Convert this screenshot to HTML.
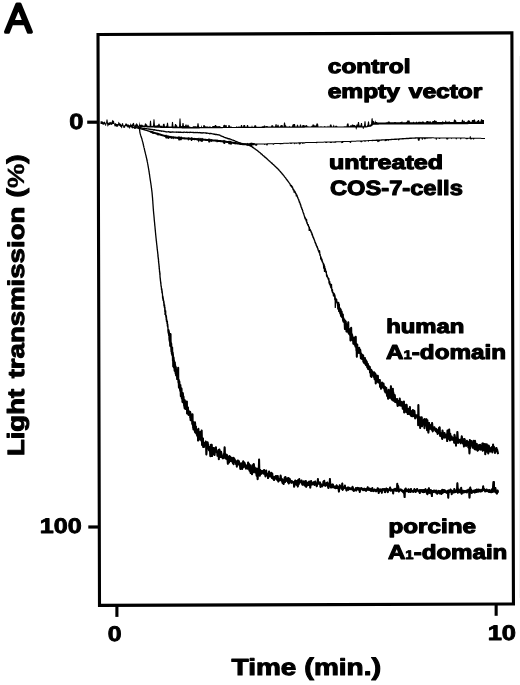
<!DOCTYPE html>
<html lang="en"><head><meta charset="utf-8"><title>Figure A</title>
<style>
html,body{margin:0;padding:0;background:#fff;}
svg{display:block}
text{text-rendering:geometricPrecision;font-family:"Liberation Sans",Arial,Helvetica,sans-serif;font-weight:700;fill:#000;stroke:#000;stroke-linejoin:round}
</style></head>
<body>
<svg width="520" height="685" viewBox="0 0 520 685">
<rect width="520" height="685" fill="#fff"/>
<polygon points="98.0,34.5 511.9,32.9 513.45,604.05 99.5,605.4" fill="none" stroke="#000" stroke-width="3.1" stroke-linejoin="miter"/>
<line x1="519.5" y1="56" x2="519.5" y2="598" stroke="#f1f1f1" stroke-width="1"/>

<line x1="87.2" y1="122.2" x2="98" y2="122.2" stroke="#000" stroke-width="3.2"/>
<line x1="88.3" y1="527" x2="99" y2="527" stroke="#000" stroke-width="3.2"/>
<line x1="116.9" y1="605" x2="116.9" y2="616.9" stroke="#000" stroke-width="3.1"/>
<line x1="496.15" y1="604" x2="496.15" y2="615.8" stroke="#000" stroke-width="3.1"/>


<path d="M100.5,121.5 101.0,121.2 101.5,121.4 102.0,120.8 102.5,121.8 103.0,121.8 103.5,122.3 104.0,122.3 104.5,121.6 105.0,121.7 105.5,123.2 106.0,123.2 106.5,119.4 107.0,119.4 107.5,119.4 108.0,123.2 108.5,122.6 109.0,122.7 109.5,122.1 110.0,122.5 110.5,121.9 111.0,121.8 111.5,122.7 112.0,121.1 112.5,119.8 113.0,120.5 113.5,120.8 114.0,120.9 114.5,123.8 115.0,123.4 115.5,123.1 116.0,123.6 116.5,124.1 117.0,124.0 117.5,123.9 118.0,124.2 118.5,121.7 119.0,121.9 119.5,123.2 120.0,123.3 120.5,123.7 121.0,124.3 121.5,125.3 122.0,123.2 122.5,123.2 123.0,122.9 123.5,125.5 124.0,125.5 124.5,125.2 125.0,125.1 125.5,123.3 126.0,123.7 126.5,123.5 127.0,123.8 127.5,124.7 128.0,124.5 128.5,124.6 129.0,124.7 129.5,125.6 130.0,125.6 130.5,123.2 131.0,123.8 131.5,124.9 132.0,124.8 132.5,123.7 133.0,123.3 133.5,122.8 134.0,123.0 134.5,125.4 135.0,125.4 135.5,124.2 136.0,124.4 136.5,123.0 137.0,123.5 137.5,124.5 138.0,124.7 138.5,125.9 139.0,125.8 139.5,121.4 140.0,124.7 140.5,124.7 141.0,124.8 141.5,124.8 142.0,124.4 142.5,125.1 143.0,125.5 143.5,125.6 144.0,125.6 144.5,125.6 145.0,123.3 145.5,123.4 146.0,123.4 146.5,124.5 147.0,124.5 147.5,125.8 148.0,125.8 148.5,125.8 149.0,125.9 149.5,125.9 150.0,120.7 150.5,120.7 151.0,120.7 151.5,126.0 152.0,126.0 152.5,126.0 153.0,125.2 153.5,119.3 154.0,119.3 154.5,119.4 155.0,125.7 155.5,125.4 156.0,125.4 156.5,125.4 157.0,125.4 157.5,125.1 158.0,125.2 158.5,123.8 159.0,123.8 159.5,123.8 160.0,125.6 160.5,125.7 161.0,125.7 161.5,125.4 162.0,126.3 162.5,126.3 163.0,124.2 163.5,123.7 164.0,123.8 164.5,123.8 165.0,126.4 165.5,126.4 166.0,125.8 166.5,125.9 167.0,122.7 167.5,122.7 168.0,122.8 168.5,126.5 169.0,126.5 169.5,126.5 170.0,126.5 170.5,126.5 171.0,126.5 171.5,126.5 172.0,121.8 172.5,121.9 173.0,121.9 173.5,126.6 174.0,126.6 174.5,126.6 175.0,123.9 175.5,123.9 176.0,123.9 176.5,125.2 177.0,125.2 177.5,126.7 178.0,126.7 178.5,126.7 179.0,126.7 179.5,118.5 180.0,118.5 180.5,118.5 181.0,125.9 181.5,125.9 182.0,126.3 182.5,123.1 183.0,123.1 183.5,123.1 184.0,126.0 184.5,126.0 185.0,126.0 185.5,124.6 186.0,124.6 186.5,124.6 187.0,126.3 187.5,124.8 188.0,124.8 188.5,124.8 189.0,126.4 189.5,126.4 190.0,126.4 190.5,126.9 191.0,126.9 191.5,126.9 192.0,126.9 192.5,126.9 193.0,126.3 193.5,126.3 194.0,126.3 194.5,126.3 195.0,126.3 195.5,126.3 196.0,126.3 196.5,126.4 197.0,126.4 197.5,123.2 198.0,123.2 198.5,123.2 199.0,126.3 199.5,126.9 200.0,127.1 200.5,127.1 201.0,127.1 201.5,125.1 202.0,127.1 202.5,127.1 203.0,127.1 203.5,125.1 204.0,125.1 204.5,125.1 205.0,126.3 205.5,126.3 206.0,126.5 206.5,126.5 207.0,126.5 207.5,126.6 208.0,126.6 208.5,127.1 209.0,126.5 209.5,126.5 210.0,126.5 210.5,126.5 211.0,127.0 211.5,127.0 212.0,127.0 212.5,126.1 213.0,126.1 213.5,126.1 214.0,126.1 214.5,126.1 215.0,125.0 215.5,125.0 216.0,125.0 216.5,126.1 217.0,126.3 217.5,126.3 218.0,126.2 218.5,126.2 219.0,125.9 219.5,125.9 220.0,126.4 220.5,126.4 221.0,127.0 221.5,127.0 222.0,127.0 222.5,127.0 223.0,126.9 223.5,124.9 224.0,124.9 224.5,124.7 225.0,124.7 225.5,125.6 226.0,125.0 226.5,125.0 227.0,126.9 227.5,126.9 228.0,126.9 228.5,124.9 229.0,124.9 229.5,124.9 230.0,126.4 230.5,126.4 231.0,126.4 231.5,126.4 232.0,126.9 232.5,126.9 233.0,126.9 233.5,126.9 234.0,126.9 234.5,126.9 235.0,126.9 235.5,126.9 236.0,126.9 236.5,126.3 237.0,126.3 237.5,126.9 238.0,126.8 238.5,126.8 239.0,126.0 239.5,126.8 240.0,126.8 240.5,126.8 241.0,124.9 241.5,124.9 242.0,124.9 242.5,126.8 243.0,126.8 243.5,125.1 244.0,124.9 244.5,124.9 245.0,124.9 245.5,126.8 246.0,126.8 246.5,126.8 247.0,124.9 247.5,124.9 248.0,124.9 248.5,126.8 249.0,126.8 249.5,126.8 250.0,126.8 250.5,126.8 251.0,126.8 251.5,126.7 252.0,125.0 252.5,126.7 253.0,126.7 253.5,126.7 254.0,126.7 254.5,125.2 255.0,125.2 255.5,125.2 256.0,125.2 256.5,126.7 257.0,126.7 257.5,126.7 258.0,126.7 258.5,126.7 259.0,126.7 259.5,126.7 260.0,126.7 260.5,126.7 261.0,126.7 261.5,126.7 262.0,126.2 262.5,126.2 263.0,126.2 263.5,126.2 264.0,125.6 264.5,125.6 265.0,125.6 265.5,126.6 266.0,125.9 266.5,125.9 267.0,125.9 267.5,125.9 268.0,126.6 268.5,126.6 269.0,126.6 269.5,126.6 270.0,126.6 270.5,126.6 271.0,126.6 271.5,125.2 272.0,125.2 272.5,125.2 273.0,125.2 273.5,126.6 274.0,126.6 274.5,126.6 275.0,126.6 275.5,124.2 276.0,124.2 276.5,124.1 277.0,126.6 277.5,124.8 278.0,124.8 278.5,124.8 279.0,126.6 279.5,126.6 280.0,126.6 280.5,125.3 281.0,125.3 281.5,124.9 282.0,124.9 282.5,124.9 283.0,126.5 283.5,126.5 284.0,122.6 284.5,122.6 285.0,122.6 285.5,125.3 286.0,125.3 286.5,126.5 287.0,126.5 287.5,126.5 288.0,126.5 288.5,126.5 289.0,126.5 289.5,125.7 290.0,126.5 290.5,126.5 291.0,126.5 291.5,126.5 292.0,126.5 292.5,124.4 293.0,124.4 293.5,124.1 294.0,124.1 294.5,124.1 295.0,124.1 295.5,126.5 296.0,126.5 296.5,126.5 297.0,124.8 297.5,124.8 298.0,124.8 298.5,126.5 299.0,126.5 299.5,126.5 300.0,124.6 300.5,124.6 301.0,124.6 301.5,126.5 302.0,126.5 302.5,124.9 303.0,124.9 303.5,124.9 304.0,124.9 304.5,125.6 305.0,125.6 305.5,125.6 306.0,125.6 306.5,125.1 307.0,125.1 307.5,126.4 308.0,125.9 308.5,126.4 309.0,126.4 309.5,126.4 310.0,126.4 310.5,126.4 311.0,126.4 311.5,125.4 312.0,126.4 312.5,124.4 313.0,124.4 313.5,124.4 314.0,124.4 314.5,125.4 315.0,125.4 315.5,125.4 316.0,125.4 316.5,123.6 317.0,123.6 317.5,123.6 318.0,123.6 318.5,126.4 319.0,126.4 319.5,126.4 320.0,126.4 320.5,126.4 321.0,125.8 321.5,126.4 322.0,126.4 322.5,126.4 323.0,126.4 323.5,126.4 324.0,126.4 324.5,125.9 325.0,125.9 325.5,126.4 326.0,126.4 326.5,126.4 327.0,126.4 327.5,126.4 328.0,125.4 328.5,126.4 329.0,126.4 329.5,126.4 330.0,124.5 330.5,124.5 331.0,124.5 331.5,124.8 332.0,126.4 332.5,126.4 333.0,126.4 333.5,124.8 334.0,124.8 334.5,126.4 335.0,126.4 335.5,125.8 336.0,125.8 336.5,125.8 337.0,125.8 337.5,126.4 338.0,126.4 338.5,126.4 339.0,126.4 339.5,126.4 340.0,126.4 340.5,126.4 341.0,126.4 341.5,126.4 342.0,126.4 342.5,126.4 343.0,126.4 343.5,126.4 344.0,126.3 344.5,126.3 345.0,126.3 345.5,126.3 346.0,126.3 346.5,126.3 347.0,123.4 347.5,123.4 348.0,123.4 348.5,123.4 349.0,126.3 349.5,126.3 350.0,125.7 350.5,125.2 351.0,125.2 351.5,125.6 352.0,124.4 352.5,124.4 353.0,124.4 353.5,125.0 354.0,125.0 354.5,125.0 355.0,125.0 355.5,125.7 356.0,126.3 356.5,124.6 357.0,124.6 357.5,124.6 358.0,121.9 358.5,121.9 359.0,121.9 359.5,125.4 360.0,125.4 360.5,125.4 361.0,122.9 361.5,122.9 362.0,122.9 362.5,126.3 363.0,126.2 363.5,126.2 364.0,125.6 364.5,121.3 365.0,121.3 365.5,121.3 366.0,126.2 366.5,126.2 367.0,125.5 367.5,125.0 368.0,121.5 368.5,121.4 369.0,121.2 369.5,125.5 370.0,124.7 370.5,124.5 371.0,124.3 371.5,118.7 372.0,118.3 372.5,117.9 373.0,121.2 373.5,120.9 374.0,120.8 374.5,122.4 375.0,122.4 375.5,119.9 376.0,122.0 376.5,122.0 377.0,121.9 377.5,122.4 378.0,122.4 378.5,122.4 379.0,122.4 379.5,122.4 380.0,122.4 380.5,122.4 381.0,122.4 381.5,122.4 382.0,122.4 382.5,122.4 383.0,122.4 383.5,122.4 384.0,122.4 384.5,122.4 385.0,122.4 385.5,122.4 386.0,122.3 386.5,122.3 387.0,122.3 387.5,122.3 388.0,121.6 388.5,121.6 389.0,121.6 389.5,121.5 390.0,122.3 390.5,122.3 391.0,122.3 391.5,122.3 392.0,122.3 392.5,122.3 393.0,122.3 393.5,122.3 394.0,122.3 394.5,121.9 395.0,121.9 395.5,121.9 396.0,122.3 396.5,122.3 397.0,122.3 397.5,122.3 398.0,122.3 398.5,122.3 399.0,122.3 399.5,122.3 400.0,122.3 400.5,121.9 401.0,121.9 401.5,121.9 402.0,120.8 402.5,122.3 403.0,122.3 403.5,122.3 404.0,122.3 404.5,122.3 405.0,122.3 405.5,122.3 406.0,122.3 406.5,121.7 407.0,121.7 407.5,120.3 408.0,120.5 408.5,120.5 409.0,120.5 409.5,120.5 410.0,122.3 410.5,122.3 411.0,122.3 411.5,122.3 412.0,122.3 412.5,122.3 413.0,122.3 413.5,121.4 414.0,122.3 414.5,122.3 415.0,122.3 415.5,122.3 416.0,122.3 416.5,121.3 417.0,122.3 417.5,122.3 418.0,122.3 418.5,121.8 419.0,121.8 419.5,121.6 420.0,122.2 420.5,121.7 421.0,121.7 421.5,122.2 422.0,121.5 422.5,121.5 423.0,121.5 423.5,121.5 424.0,122.2 424.5,122.2 425.0,122.2 425.5,122.2 426.0,122.2 426.5,121.0 427.0,121.0 427.5,121.0 428.0,121.0 428.5,121.5 429.0,121.5 429.5,121.5 430.0,121.5 430.5,121.1 431.0,122.2 431.5,122.2 432.0,122.2 432.5,121.1 433.0,121.1 433.5,121.1 434.0,121.1 434.5,120.1 435.0,120.1 435.5,120.9 436.0,120.9 436.5,120.8 437.0,122.1 437.5,122.1 438.0,122.1 438.5,122.1 439.0,122.1 439.5,122.1 440.0,122.1 440.5,122.1 441.0,122.1 441.5,122.1 442.0,122.1 442.5,121.2 443.0,121.2 443.5,122.1 444.0,122.1 444.5,122.1 445.0,122.1 445.5,120.5 446.0,120.5 446.5,122.1 447.0,121.7 447.5,121.7 448.0,121.7 448.5,121.7 449.0,121.2 449.5,121.2 450.0,122.1 450.5,122.0 451.0,122.0 451.5,122.0 452.0,122.0 452.5,122.0 453.0,122.0 453.5,122.0 454.0,119.5 454.5,119.5 455.0,119.5 455.5,120.2 456.0,120.2 456.5,122.0 457.0,122.0 457.5,122.0 458.0,122.0 458.5,122.0 459.0,122.0 459.5,122.0 460.0,122.0 460.5,122.0 461.0,122.0 461.5,122.0 462.0,119.7 462.5,119.7 463.0,119.7 463.5,121.5 464.0,120.7 464.5,120.7 465.0,121.9 465.5,121.9 466.0,121.9 466.5,121.9 467.0,121.4 467.5,121.4 468.0,120.3 468.5,120.2 469.0,120.2 469.5,120.8 470.0,120.8 470.5,121.9 471.0,121.9 471.5,121.9 472.0,120.0 472.5,120.0 473.0,119.9 473.5,119.9 474.0,119.6 474.5,119.6 475.0,119.6 475.5,121.8 476.0,121.8 476.5,121.8 477.0,120.9 477.5,120.9 478.0,120.0 478.5,120.0 479.0,119.9 479.5,121.8 480.0,121.4 480.5,121.4 481.0,119.3 481.5,119.3 482.0,119.3 482.5,120.1 483.0,119.9 483.5,119.9 484.0,119.9 484.0,124.0 483.5,124.0 483.0,124.0 482.5,124.0 482.0,124.0 481.5,124.0 481.0,124.0 480.5,124.0 480.0,124.0 479.5,124.0 479.0,124.0 478.5,124.1 478.0,124.1 477.5,124.1 477.0,124.1 476.5,124.1 476.0,124.1 475.5,124.1 475.0,124.1 474.5,124.1 474.0,124.1 473.5,124.1 473.0,124.1 472.5,124.1 472.0,124.1 471.5,124.1 471.0,124.1 470.5,124.1 470.0,124.1 469.5,124.1 469.0,124.1 468.5,124.1 468.0,124.2 467.5,124.2 467.0,124.2 466.5,124.2 466.0,124.2 465.5,124.2 465.0,124.2 464.5,124.2 464.0,124.2 463.5,124.2 463.0,124.2 462.5,124.2 462.0,124.2 461.5,124.2 461.0,124.2 460.5,124.2 460.0,124.2 459.5,124.2 459.0,124.2 458.5,124.2 458.0,124.2 457.5,124.2 457.0,124.2 456.5,124.2 456.0,124.3 455.5,124.3 455.0,124.3 454.5,124.3 454.0,124.3 453.5,124.3 453.0,124.3 452.5,124.3 452.0,124.3 451.5,124.3 451.0,124.3 450.5,124.3 450.0,124.3 449.5,124.3 449.0,124.3 448.5,124.3 448.0,124.3 447.5,124.3 447.0,124.3 446.5,124.3 446.0,124.3 445.5,124.3 445.0,124.3 444.5,124.3 444.0,124.3 443.5,124.3 443.0,124.4 442.5,124.4 442.0,124.4 441.5,124.4 441.0,124.4 440.5,124.4 440.0,124.4 439.5,124.4 439.0,124.4 438.5,124.4 438.0,124.4 437.5,124.4 437.0,124.4 436.5,124.4 436.0,124.4 435.5,124.4 435.0,124.4 434.5,124.4 434.0,124.4 433.5,124.4 433.0,124.4 432.5,124.4 432.0,124.4 431.5,124.4 431.0,124.4 430.5,124.4 430.0,124.4 429.5,124.4 429.0,124.4 428.5,124.5 428.0,124.5 427.5,124.5 427.0,124.5 426.5,124.5 426.0,124.5 425.5,124.5 425.0,124.5 424.5,124.5 424.0,124.5 423.5,124.5 423.0,124.5 422.5,124.5 422.0,124.5 421.5,124.5 421.0,124.5 420.5,124.5 420.0,124.5 419.5,124.5 419.0,124.5 418.5,124.5 418.0,124.5 417.5,124.5 417.0,124.5 416.5,124.5 416.0,124.5 415.5,124.5 415.0,124.5 414.5,124.5 414.0,124.5 413.5,124.5 413.0,124.5 412.5,124.5 412.0,124.5 411.5,124.5 411.0,124.5 410.5,124.5 410.0,124.5 409.5,124.5 409.0,124.5 408.5,124.5 408.0,124.5 407.5,124.5 407.0,124.5 406.5,124.5 406.0,124.5 405.5,124.5 405.0,124.5 404.5,124.5 404.0,124.5 403.5,124.5 403.0,124.6 402.5,124.6 402.0,124.6 401.5,124.6 401.0,124.6 400.5,124.6 400.0,124.6 399.5,124.6 399.0,124.6 398.5,124.6 398.0,124.6 397.5,124.6 397.0,124.6 396.5,124.6 396.0,124.6 395.5,124.6 395.0,124.6 394.5,124.6 394.0,124.6 393.5,124.6 393.0,124.6 392.5,124.6 392.0,124.6 391.5,124.6 391.0,124.6 390.5,124.6 390.0,124.6 389.5,124.6 389.0,124.6 388.5,124.6 388.0,124.6 387.5,124.6 387.0,124.6 386.5,124.6 386.0,124.6 385.5,124.6 385.0,124.6 384.5,124.6 384.0,124.6 383.5,124.6 383.0,124.6 382.5,124.6 382.0,124.6 381.5,124.6 381.0,124.6 380.5,124.6 380.0,124.6 379.5,124.6 379.0,124.6 378.5,124.7 378.0,124.7 377.5,124.7 377.0,124.7 376.5,124.7 376.0,124.7 375.5,124.7 375.0,124.7 374.5,124.7 374.0,124.7 373.5,124.8 373.0,125.1 372.5,125.5 372.0,125.9 371.5,126.3 371.0,126.6 370.5,126.8 370.0,127.0 369.5,126.7 369.0,126.8 368.5,127.0 368.0,127.1 367.5,127.2 367.0,127.3 366.5,127.4 366.0,127.4 365.5,127.4 365.0,127.4 364.5,127.4 364.0,127.4 363.5,129.0 363.0,129.0 362.5,127.5 362.0,127.5 361.5,127.5 361.0,127.5 360.5,127.5 360.0,127.5 359.5,127.5 359.0,127.5 358.5,127.5 358.0,127.5 357.5,127.5 357.0,127.5 356.5,129.4 356.0,129.4 355.5,127.5 355.0,127.5 354.5,127.5 354.0,127.5 353.5,127.5 353.0,127.5 352.5,127.5 352.0,127.5 351.5,127.5 351.0,127.5 350.5,127.5 350.0,127.5 349.5,127.5 349.0,127.5 348.5,127.5 348.0,127.5 347.5,127.5 347.0,127.5 346.5,127.5 346.0,127.5 345.5,127.5 345.0,127.5 344.5,127.5 344.0,127.5 343.5,127.6 343.0,127.6 342.5,127.6 342.0,127.6 341.5,127.6 341.0,127.6 340.5,127.6 340.0,127.6 339.5,127.6 339.0,127.6 338.5,127.6 338.0,127.6 337.5,127.6 337.0,127.6 336.5,127.6 336.0,127.6 335.5,127.6 335.0,127.6 334.5,127.6 334.0,127.6 333.5,127.6 333.0,127.6 332.5,127.6 332.0,127.6 331.5,127.6 331.0,127.6 330.5,127.6 330.0,127.6 329.5,127.6 329.0,127.6 328.5,127.6 328.0,127.6 327.5,127.6 327.0,127.6 326.5,127.6 326.0,127.6 325.5,127.6 325.0,127.6 324.5,127.6 324.0,127.6 323.5,127.6 323.0,127.6 322.5,127.6 322.0,127.6 321.5,127.6 321.0,127.6 320.5,127.6 320.0,127.6 319.5,127.6 319.0,127.6 318.5,127.6 318.0,127.6 317.5,127.6 317.0,127.6 316.5,127.6 316.0,127.6 315.5,127.6 315.0,127.6 314.5,127.6 314.0,127.6 313.5,127.6 313.0,127.6 312.5,127.6 312.0,127.6 311.5,127.6 311.0,127.6 310.5,127.6 310.0,127.6 309.5,127.6 309.0,127.6 308.5,127.6 308.0,127.6 307.5,127.6 307.0,127.6 306.5,127.6 306.0,127.6 305.5,127.6 305.0,127.6 304.5,127.7 304.0,127.7 303.5,127.7 303.0,127.7 302.5,127.7 302.0,127.7 301.5,127.7 301.0,127.7 300.5,127.7 300.0,127.7 299.5,127.7 299.0,127.7 298.5,127.7 298.0,127.7 297.5,127.7 297.0,127.7 296.5,127.7 296.0,127.7 295.5,127.7 295.0,127.7 294.5,127.7 294.0,127.7 293.5,127.7 293.0,127.7 292.5,127.7 292.0,127.7 291.5,127.7 291.0,127.7 290.5,127.7 290.0,127.7 289.5,127.7 289.0,127.7 288.5,127.7 288.0,127.7 287.5,127.7 287.0,127.7 286.5,127.7 286.0,127.7 285.5,127.7 285.0,127.7 284.5,127.7 284.0,127.7 283.5,127.7 283.0,127.7 282.5,127.7 282.0,127.7 281.5,127.7 281.0,127.7 280.5,127.7 280.0,127.8 279.5,127.8 279.0,127.8 278.5,127.8 278.0,127.8 277.5,127.8 277.0,127.8 276.5,127.8 276.0,127.8 275.5,127.8 275.0,127.8 274.5,127.8 274.0,127.8 273.5,127.8 273.0,127.8 272.5,127.8 272.0,127.8 271.5,127.8 271.0,127.8 270.5,127.8 270.0,127.8 269.5,127.8 269.0,127.8 268.5,127.8 268.0,127.8 267.5,127.8 267.0,127.8 266.5,127.8 266.0,127.8 265.5,127.8 265.0,127.8 264.5,127.9 264.0,127.9 263.5,127.9 263.0,127.9 262.5,127.9 262.0,127.9 261.5,127.9 261.0,127.9 260.5,127.9 260.0,127.9 259.5,127.9 259.0,127.9 258.5,127.9 258.0,127.9 257.5,127.9 257.0,127.9 256.5,127.9 256.0,127.9 255.5,127.9 255.0,127.9 254.5,127.9 254.0,127.9 253.5,127.9 253.0,127.9 252.5,127.9 252.0,127.9 251.5,127.9 251.0,128.0 250.5,128.0 250.0,128.0 249.5,128.0 249.0,128.0 248.5,128.0 248.0,128.0 247.5,128.0 247.0,128.0 246.5,128.0 246.0,128.0 245.5,128.0 245.0,128.0 244.5,128.0 244.0,128.0 243.5,128.0 243.0,128.0 242.5,128.0 242.0,128.0 241.5,128.0 241.0,128.0 240.5,128.0 240.0,128.0 239.5,128.0 239.0,128.0 238.5,128.0 238.0,128.0 237.5,128.1 237.0,128.1 236.5,128.1 236.0,128.1 235.5,128.1 235.0,128.1 234.5,128.1 234.0,128.1 233.5,128.1 233.0,128.1 232.5,128.1 232.0,128.1 231.5,128.1 231.0,128.1 230.5,128.1 230.0,128.1 229.5,128.1 229.0,128.1 228.5,128.1 228.0,128.1 227.5,128.1 227.0,128.1 226.5,128.1 226.0,128.1 225.5,128.1 225.0,128.1 224.5,128.1 224.0,128.1 223.5,128.1 223.0,128.1 222.5,128.2 222.0,128.2 221.5,128.2 221.0,128.2 220.5,128.2 220.0,128.2 219.5,128.2 219.0,128.2 218.5,128.2 218.0,128.2 217.5,128.2 217.0,128.2 216.5,128.2 216.0,128.2 215.5,128.2 215.0,128.2 214.5,128.2 214.0,128.2 213.5,128.2 213.0,128.2 212.5,128.2 212.0,128.2 211.5,128.2 211.0,128.2 210.5,128.2 210.0,128.2 209.5,128.2 209.0,128.3 208.5,128.3 208.0,128.3 207.5,128.3 207.0,128.3 206.5,128.3 206.0,128.3 205.5,128.3 205.0,128.3 204.5,128.3 204.0,128.3 203.5,128.3 203.0,128.3 202.5,128.3 202.0,128.3 201.5,128.3 201.0,128.3 200.5,128.3 200.0,128.3 199.5,128.5 199.0,128.5 198.5,128.5 198.0,128.5 197.5,128.5 197.0,128.5 196.5,128.5 196.0,128.5 195.5,128.5 195.0,128.5 194.5,128.5 194.0,128.5 193.5,128.5 193.0,128.5 192.5,128.5 192.0,128.5 191.5,128.5 191.0,128.5 190.5,128.5 190.0,128.5 189.5,128.5 189.0,128.5 188.5,128.5 188.0,128.5 187.5,128.4 187.0,128.4 186.5,128.4 186.0,128.4 185.5,128.4 185.0,128.4 184.5,128.4 184.0,128.4 183.5,128.4 183.0,128.4 182.5,128.4 182.0,128.4 181.5,128.3 181.0,128.3 180.5,128.3 180.0,128.3 179.5,128.3 179.0,128.3 178.5,128.3 178.0,128.3 177.5,128.3 177.0,128.3 176.5,128.2 176.0,128.2 175.5,128.2 175.0,128.2 174.5,128.2 174.0,128.2 173.5,128.2 173.0,128.2 172.5,128.2 172.0,128.1 171.5,128.1 171.0,128.1 170.5,128.1 170.0,128.1 169.5,128.1 169.0,128.1 168.5,128.1 168.0,128.1 167.5,128.0 167.0,128.0 166.5,128.0 166.0,128.0 165.5,128.0 165.0,128.0 164.5,128.0 164.0,128.0 163.5,127.9 163.0,127.9 162.5,127.9 162.0,127.9 161.5,127.9 161.0,127.9 160.5,127.9 160.0,127.8 159.5,127.8 159.0,127.8 158.5,127.8 158.0,127.8 157.5,127.8 157.0,127.7 156.5,127.7 156.0,127.7 155.5,127.7 155.0,127.7 154.5,127.7 154.0,127.6 153.5,127.6 153.0,127.6 152.5,127.6 152.0,127.6 151.5,127.6 151.0,127.5 150.5,127.5 150.0,127.5 149.5,127.5 149.0,127.5 148.5,127.4 148.0,127.4 147.5,127.4 147.0,127.4 146.5,127.3 146.0,127.3 145.5,127.3 145.0,127.3 144.5,127.2 144.0,127.2 143.5,127.2 143.0,127.1 142.5,127.1 142.0,127.1 141.5,127.1 141.0,127.0 140.5,127.0 140.0,127.0 139.5,126.4 139.0,128.3 138.5,128.3 138.0,127.2 137.5,127.1 137.0,126.3 136.5,126.2 136.0,126.9 135.5,126.9 135.0,128.4 134.5,128.4 134.0,126.1 133.5,126.1 133.0,126.2 132.5,126.2 132.0,127.6 131.5,127.6 131.0,126.4 130.5,126.4 130.0,128.8 129.5,128.8 129.0,127.4 128.5,127.4 128.0,127.4 127.5,127.4 127.0,126.4 126.5,126.4 126.0,126.1 125.5,126.1 125.0,127.7 124.5,127.7 124.0,128.1 123.5,128.1 123.0,126.1 122.5,126.1 122.0,128.2 121.5,128.2 121.0,127.1 120.5,127.1 120.0,126.3 119.5,126.1 119.0,125.4 118.5,125.2 118.0,126.7 117.5,126.5 117.0,126.9 116.5,126.8 116.0,126.3 115.5,126.2 115.0,126.4 114.5,126.3 114.0,124.1 113.5,124.0 113.0,124.0 112.5,123.9 112.0,125.1 111.5,125.0 111.0,124.5 110.5,124.4 110.0,125.1 109.5,125.1 109.0,125.2 108.5,125.2 108.0,126.4 107.5,126.4 107.0,123.6 106.5,123.6 106.0,125.9 105.5,125.9 105.0,124.2 104.5,124.2 104.0,124.8 103.5,124.8 103.0,124.5 102.5,124.5 102.0,123.9 101.5,123.9 101.0,123.9 100.5,124.0Z" fill="#000"/>
<path d="M128.0,125.2 128.5,125.3 129.0,125.4 129.5,125.5 130.0,125.6 130.5,125.7 131.0,125.8 131.5,125.9 132.0,126.0 132.5,126.1 133.0,126.2 133.5,126.4 134.0,126.5 134.5,126.6 135.0,126.7 135.5,126.8 136.0,126.9 136.5,127.0 137.0,127.2 137.5,127.3 138.0,127.4 138.5,127.5 139.0,127.6 139.5,127.8 140.0,127.9 140.5,128.0 141.0,128.2 141.5,128.3 142.0,128.4 142.5,128.6 143.0,128.7 143.5,128.8 144.0,129.0 144.5,129.1 145.0,129.3 145.5,129.4 146.0,129.6 146.5,129.7 147.0,129.9 147.5,130.0 148.0,130.2 148.5,130.3 149.0,130.5 149.5,130.7 150.0,130.5 150.5,130.7 151.0,130.8 151.5,131.0 152.0,131.1 152.5,131.1 153.0,131.2 153.5,131.6 154.0,131.7 154.5,131.9 155.0,132.0 155.5,132.2 156.0,132.3 156.5,132.5 157.0,132.4 157.5,132.5 158.0,132.9 158.5,132.8 159.0,133.2 159.5,133.3 160.0,133.5 160.5,133.6 161.0,133.8 161.5,133.9 162.0,134.1 162.5,134.2 163.0,134.4 163.5,134.5 164.0,134.7 164.5,134.8 165.0,135.0 165.5,135.1 166.0,134.6 166.5,134.7 167.0,135.5 167.5,135.2 168.0,135.3 168.5,135.8 169.0,135.3 169.5,135.9 170.0,136.0 170.5,136.1 171.0,135.8 171.5,136.2 172.0,136.0 172.5,136.3 173.0,136.4 173.5,135.9 174.0,136.5 174.5,136.5 175.0,136.6 175.5,136.6 176.0,136.7 176.5,136.7 177.0,136.7 177.5,136.8 178.0,136.8 178.5,136.1 179.0,136.9 179.5,136.2 180.0,136.4 180.5,137.0 181.0,136.5 181.5,136.5 182.0,137.1 182.5,137.2 183.0,137.2 183.5,137.2 184.0,137.3 184.5,137.3 185.0,137.3 185.5,137.4 186.0,137.4 186.5,137.4 187.0,137.4 187.5,137.5 188.0,137.5 188.5,137.1 189.0,137.4 189.5,137.6 190.0,137.6 190.5,137.7 191.0,137.7 191.5,137.1 192.0,137.2 192.5,137.8 193.0,137.8 193.5,137.9 194.0,137.9 194.5,137.7 195.0,138.0 195.5,138.0 196.0,138.1 196.5,138.1 197.0,138.2 197.5,138.0 198.0,138.0 198.5,138.3 199.0,137.3 199.5,138.3 200.0,138.4 200.5,138.1 201.0,137.7 201.5,138.5 202.0,137.8 202.5,137.9 203.0,138.6 203.5,138.6 204.0,138.7 204.5,138.7 205.0,138.7 205.5,138.8 206.0,138.8 206.5,138.9 207.0,138.9 207.5,138.9 208.0,139.0 208.5,138.3 209.0,139.0 209.5,138.4 210.0,138.4 210.5,139.2 211.0,138.9 211.5,138.9 212.0,139.3 212.5,139.3 213.0,139.4 213.5,139.4 214.0,139.4 214.5,139.5 215.0,139.5 215.5,139.6 216.0,139.6 216.5,139.7 217.0,139.2 217.5,139.8 218.0,139.8 218.5,139.9 219.0,139.9 219.5,139.9 220.0,140.0 220.5,140.1 221.0,140.1 221.5,140.2 222.0,140.2 222.5,140.3 223.0,140.3 223.5,139.7 224.0,140.5 224.5,139.9 225.0,139.8 225.5,140.7 226.0,140.7 226.5,140.8 227.0,140.9 227.5,141.0 228.0,141.0 228.5,141.1 229.0,140.6 229.5,140.7 230.0,141.3 230.5,140.8 231.0,140.8 231.5,141.5 232.0,141.6 232.5,141.7 233.0,141.7 233.5,141.8 234.0,141.9 234.5,141.9 235.0,141.7 235.5,142.1 236.0,142.1 236.5,142.2 237.0,142.3 237.5,142.4 238.0,142.4 238.5,142.5 239.0,142.6 239.5,142.7 240.0,142.8 240.5,142.8 241.0,142.9 241.5,143.0 242.0,143.0 242.5,143.1 243.0,143.1 243.5,143.2 244.0,143.2 244.5,143.2 245.0,143.2 245.5,143.2 246.0,143.2 246.5,143.2 247.0,143.2 247.5,142.7 248.0,143.2 248.5,143.2 249.0,143.2 249.5,143.2 250.0,142.8 250.5,142.8 251.0,143.2 251.5,142.4 252.0,142.4 252.5,143.1 253.0,143.1 253.5,143.1 254.0,143.1 254.5,143.1 255.0,143.6 255.5,143.6 256.0,143.6 256.5,143.6 257.0,143.6 257.5,143.5 258.0,143.5 258.5,143.5 259.0,143.5 259.5,143.5 260.0,143.5 260.5,143.5 261.0,143.5 261.5,143.5 262.0,143.5 262.5,143.5 263.0,143.4 263.5,143.4 264.0,143.4 264.5,143.4 265.0,143.4 265.5,143.4 266.0,143.4 266.5,143.4 267.0,143.3 267.5,143.3 268.0,143.3 268.5,143.3 269.0,143.3 269.5,143.3 270.0,143.3 270.5,143.3 271.0,143.2 271.5,143.2 272.0,143.2 272.5,143.2 273.0,143.2 273.5,143.2 274.0,143.2 274.5,143.1 275.0,143.1 275.5,143.1 276.0,143.1 276.5,143.1 277.0,143.1 277.5,143.0 278.0,143.0 278.5,143.0 279.0,143.0 279.5,143.0 280.0,143.0 280.5,142.9 281.0,142.9 281.5,142.9 282.0,142.9 282.5,142.9 283.0,142.9 283.5,142.8 284.0,142.8 284.5,142.8 285.0,142.8 285.5,142.8 286.0,142.8 286.5,142.7 287.0,142.7 287.5,142.7 288.0,142.7 288.5,142.7 289.0,142.7 289.5,142.6 290.0,142.6 290.5,142.6 291.0,142.6 291.5,142.6 292.0,142.6 292.5,142.5 293.0,142.5 293.5,142.5 294.0,142.5 294.5,142.5 295.0,142.5 295.5,142.4 296.0,142.4 296.5,142.4 297.0,142.4 297.5,142.4 298.0,142.4 298.5,142.3 299.0,142.3 299.5,142.3 300.0,142.3 300.5,142.3 301.0,142.3 301.5,142.3 302.0,142.2 302.5,142.2 303.0,142.2 303.5,142.2 304.0,142.2 304.5,142.2 305.0,142.2 305.5,142.1 306.0,142.1 306.5,142.1 307.0,142.1 307.5,142.1 308.0,142.1 308.5,142.1 309.0,142.0 309.5,142.0 310.0,142.0 310.5,142.0 311.0,142.0 311.5,142.0 312.0,142.0 312.5,142.0 313.0,141.9 313.5,141.9 314.0,141.9 314.5,141.9 315.0,141.9 315.5,141.9 316.0,141.9 316.5,141.8 317.0,141.8 317.5,141.8 318.0,141.8 318.5,141.8 319.0,141.8 319.5,141.8 320.0,141.8 320.5,141.7 321.0,141.7 321.5,141.7 322.0,141.7 322.5,141.7 323.0,141.7 323.5,141.7 324.0,141.6 324.5,141.6 325.0,141.6 325.5,141.6 326.0,141.6 326.5,141.6 327.0,141.6 327.5,141.6 328.0,141.5 328.5,141.5 329.0,141.5 329.5,141.5 330.0,141.5 330.5,141.5 331.0,141.5 331.5,141.4 332.0,141.4 332.5,141.4 333.0,141.4 333.5,141.4 334.0,141.4 334.5,141.4 335.0,141.3 335.5,141.3 336.0,141.3 336.5,141.3 337.0,141.3 337.5,141.3 338.0,141.3 338.5,141.2 339.0,141.2 339.5,141.2 340.0,141.2 340.5,141.2 341.0,141.2 341.5,141.2 342.0,141.1 342.5,141.1 343.0,141.1 343.5,141.1 344.0,141.1 344.5,141.1 345.0,141.0 345.5,141.0 346.0,141.0 346.5,141.0 347.0,141.0 347.5,141.0 348.0,140.9 348.5,140.9 349.0,140.9 349.5,140.9 350.0,140.9 350.5,140.9 351.0,140.8 351.5,140.8 352.0,140.8 352.5,140.8 353.0,140.8 353.5,140.8 354.0,140.7 354.5,140.7 355.0,140.7 355.5,140.7 356.0,140.7 356.5,140.6 357.0,140.6 357.5,140.6 358.0,140.6 358.5,140.6 359.0,140.5 359.5,140.5 360.0,140.5 360.5,140.5 361.0,140.5 361.5,140.4 362.0,140.4 362.5,140.4 363.0,140.4 363.5,140.3 364.0,140.3 364.5,140.3 365.0,140.3 365.5,140.3 366.0,140.2 366.5,140.2 367.0,140.2 367.5,140.2 368.0,140.1 368.5,140.1 369.0,140.1 369.5,140.1 370.0,140.0 370.5,140.0 371.0,140.0 371.5,140.0 372.0,139.8 372.5,139.8 373.0,139.8 373.5,139.8 374.0,139.7 374.5,139.7 375.0,139.7 375.5,139.7 376.0,139.6 376.5,139.6 377.0,139.6 377.5,139.6 378.0,139.5 378.5,139.5 379.0,139.5 379.5,139.4 380.0,139.4 380.5,139.4 381.0,139.4 381.5,139.3 382.0,139.3 382.5,139.3 383.0,139.3 383.5,139.2 384.0,139.2 384.5,139.2 385.0,139.2 385.5,139.1 386.0,139.1 386.5,139.1 387.0,139.1 387.5,139.0 388.0,139.0 388.5,139.0 389.0,139.0 389.5,138.9 390.0,138.9 390.5,138.9 391.0,138.8 391.5,138.8 392.0,138.8 392.5,138.8 393.0,138.7 393.5,138.7 394.0,138.7 394.5,138.6 395.0,138.6 395.5,138.6 396.0,138.5 396.5,138.5 397.0,138.5 397.5,138.4 398.0,138.4 398.5,138.4 399.0,138.3 399.5,138.3 400.0,138.3 400.5,138.2 401.0,138.2 401.5,138.2 402.0,138.1 402.5,138.1 403.0,138.1 403.5,138.0 404.0,138.0 404.5,137.9 405.0,137.9 405.5,137.9 406.0,137.8 406.5,137.8 407.0,137.8 407.5,137.7 408.0,137.7 408.5,137.7 409.0,137.7 409.5,137.6 410.0,137.6 410.5,137.6 411.0,137.5 411.5,137.5 412.0,137.5 412.5,137.5 413.0,137.4 413.5,137.4 414.0,137.4 414.5,137.4 415.0,137.3 415.5,137.3 416.0,137.3 416.5,137.3 417.0,137.3 417.5,137.3 418.0,137.3 418.5,137.2 419.0,137.2 419.5,137.2 420.0,137.2 420.5,137.2 421.0,137.2 421.5,137.2 422.0,137.2 422.5,137.2 423.0,137.2 423.5,137.2 424.0,137.2 424.5,137.2 425.0,137.2 425.5,137.2 426.0,137.2 426.5,137.2 427.0,137.2 427.5,137.2 428.0,137.2 428.5,137.2 429.0,137.2 429.5,137.2 430.0,137.2 430.5,137.2 431.0,137.2 431.5,137.2 432.0,137.3 432.5,137.3 433.0,137.3 433.5,137.3 434.0,137.4 434.5,137.4 435.0,137.4 435.5,137.4 436.0,137.4 436.5,137.4 437.0,137.4 437.5,137.4 438.0,137.4 438.5,137.4 439.0,137.4 439.5,137.4 440.0,137.4 440.5,137.4 441.0,137.4 441.5,137.4 442.0,137.4 442.5,137.4 443.0,137.4 443.5,137.4 444.0,137.4 444.5,137.4 445.0,137.5 445.5,137.5 446.0,137.5 446.5,137.5 447.0,137.5 447.5,137.5 448.0,137.5 448.5,137.5 449.0,137.5 449.5,137.5 450.0,137.5 450.5,137.5 451.0,137.5 451.5,137.5 452.0,137.5 452.5,137.5 453.0,137.5 453.5,137.5 454.0,137.5 454.5,137.5 455.0,137.5 455.5,137.6 456.0,137.6 456.5,137.6 457.0,137.6 457.5,137.6 458.0,137.6 458.5,137.6 459.0,137.6 459.5,137.6 460.0,137.6 460.5,137.6 461.0,137.6 461.5,137.6 462.0,137.6 462.5,137.6 463.0,137.6 463.5,137.6 464.0,137.6 464.5,137.6 465.0,137.6 465.5,137.7 466.0,137.7 466.5,137.7 467.0,137.7 467.5,137.7 468.0,137.7 468.5,137.7 469.0,137.7 469.5,137.7 470.0,136.0 470.5,136.0 471.0,137.7 471.5,137.7 472.0,137.7 472.5,137.7 473.0,137.7 473.5,137.7 474.0,137.8 474.5,137.8 475.0,137.8 475.5,137.8 476.0,137.8 476.5,137.8 477.0,137.8 477.5,137.8 478.0,137.8 478.5,137.8 479.0,137.8 479.5,137.8 480.0,137.8 480.5,137.8 481.0,137.8 481.5,137.9 482.0,137.9 482.5,137.9 483.0,137.9 483.5,137.9 484.0,137.9 484.5,137.9 485.0,137.9 485.0,138.9 484.5,138.9 484.0,138.9 483.5,138.9 483.0,138.9 482.5,138.9 482.0,138.9 481.5,138.9 481.0,138.8 480.5,138.8 480.0,138.8 479.5,138.8 479.0,138.8 478.5,138.8 478.0,138.8 477.5,138.8 477.0,138.8 476.5,138.8 476.0,138.8 475.5,138.8 475.0,138.8 474.5,138.8 474.0,139.4 473.5,139.4 473.0,139.4 472.5,138.7 472.0,138.7 471.5,139.4 471.0,139.4 470.5,139.4 470.0,138.7 469.5,138.7 469.0,138.7 468.5,138.7 468.0,138.7 467.5,139.3 467.0,139.3 466.5,139.3 466.0,139.3 465.5,138.7 465.0,138.6 464.5,138.6 464.0,138.6 463.5,138.6 463.0,138.6 462.5,138.6 462.0,138.6 461.5,138.6 461.0,139.5 460.5,139.5 460.0,138.6 459.5,138.6 459.0,138.6 458.5,138.6 458.0,138.6 457.5,138.6 457.0,138.6 456.5,139.5 456.0,139.5 455.5,138.6 455.0,138.5 454.5,138.5 454.0,138.5 453.5,138.5 453.0,138.5 452.5,138.5 452.0,138.5 451.5,139.2 451.0,138.5 450.5,138.5 450.0,138.5 449.5,138.5 449.0,138.5 448.5,138.5 448.0,139.5 447.5,139.5 447.0,139.5 446.5,139.5 446.0,138.5 445.5,138.5 445.0,138.5 444.5,138.4 444.0,138.4 443.5,138.4 443.0,138.4 442.5,138.4 442.0,138.4 441.5,138.4 441.0,138.4 440.5,138.4 440.0,139.0 439.5,139.0 439.0,139.0 438.5,138.4 438.0,138.4 437.5,138.4 437.0,138.4 436.5,139.9 436.0,139.9 435.5,138.4 435.0,138.4 434.5,138.4 434.0,138.4 433.5,138.3 433.0,138.3 432.5,138.3 432.0,138.3 431.5,138.6 431.0,138.6 430.5,138.6 430.0,138.6 429.5,138.6 429.0,138.6 428.5,138.6 428.0,138.6 427.5,138.6 427.0,139.3 426.5,138.6 426.0,138.6 425.5,139.2 425.0,139.2 424.5,139.2 424.0,139.2 423.5,138.6 423.0,138.6 422.5,140.0 422.0,140.0 421.5,138.6 421.0,138.6 420.5,138.6 420.0,138.6 419.5,140.7 419.0,140.7 418.5,140.7 418.0,140.8 417.5,138.6 417.0,138.6 416.5,138.6 416.0,138.7 415.5,138.7 415.0,138.7 414.5,138.7 414.0,138.7 413.5,138.8 413.0,138.8 412.5,138.8 412.0,138.8 411.5,138.9 411.0,138.9 410.5,138.9 410.0,138.9 409.5,139.0 409.0,139.0 408.5,139.0 408.0,139.8 407.5,139.1 407.0,139.1 406.5,139.2 406.0,139.2 405.5,139.2 405.0,139.3 404.5,139.3 404.0,139.3 403.5,139.4 403.0,139.4 402.5,139.4 402.0,139.5 401.5,139.5 401.0,139.5 400.5,139.6 400.0,139.6 399.5,139.7 399.0,140.5 398.5,140.5 398.0,139.8 397.5,139.8 397.0,139.8 396.5,139.9 396.0,139.9 395.5,139.9 395.0,140.0 394.5,140.0 394.0,140.0 393.5,140.1 393.0,140.1 392.5,140.1 392.0,140.1 391.5,140.2 391.0,140.2 390.5,140.2 390.0,140.2 389.5,140.3 389.0,140.3 388.5,141.2 388.0,140.4 387.5,140.4 387.0,140.4 386.5,141.0 386.0,141.0 385.5,140.9 385.0,141.4 384.5,140.5 384.0,140.6 383.5,140.6 383.0,140.6 382.5,140.6 382.0,140.7 381.5,140.7 381.0,140.7 380.5,140.7 380.0,140.8 379.5,141.6 379.0,141.7 378.5,141.7 378.0,142.2 377.5,142.1 377.0,140.9 376.5,141.0 376.0,141.0 375.5,141.0 375.0,141.0 374.5,141.1 374.0,141.1 373.5,141.1 373.0,141.1 372.5,141.2 372.0,141.2 371.5,141.0 371.0,141.0 370.5,141.0 370.0,141.0 369.5,141.1 369.0,141.1 368.5,142.3 368.0,141.1 367.5,141.2 367.0,141.2 366.5,141.2 366.0,141.2 365.5,141.7 365.0,141.7 364.5,141.7 364.0,141.3 363.5,141.3 363.0,141.4 362.5,141.4 362.0,142.2 361.5,142.2 361.0,142.2 360.5,141.9 360.0,141.5 359.5,141.5 359.0,141.5 358.5,141.6 358.0,141.6 357.5,141.6 357.0,141.6 356.5,141.6 356.0,141.7 355.5,141.7 355.0,141.7 354.5,141.7 354.0,141.7 353.5,141.8 353.0,141.8 352.5,141.8 352.0,141.8 351.5,141.8 351.0,142.8 350.5,142.9 350.0,142.9 349.5,141.9 349.0,141.9 348.5,141.9 348.0,141.9 347.5,142.0 347.0,142.0 346.5,142.0 346.0,142.0 345.5,142.0 345.0,142.0 344.5,142.1 344.0,142.1 343.5,142.1 343.0,143.0 342.5,143.0 342.0,143.1 341.5,143.2 341.0,142.2 340.5,142.2 340.0,142.2 339.5,142.2 339.0,142.2 338.5,142.2 338.0,142.3 337.5,142.3 337.0,142.3 336.5,142.3 336.0,142.8 335.5,142.8 335.0,142.8 334.5,142.8 334.0,142.7 333.5,142.7 333.0,142.4 332.5,142.4 332.0,142.8 331.5,142.9 331.0,142.9 330.5,143.0 330.0,143.0 329.5,142.5 329.0,142.5 328.5,142.5 328.0,142.5 327.5,142.6 327.0,143.0 326.5,143.0 326.0,143.0 325.5,143.0 325.0,142.6 324.5,142.6 324.0,142.6 323.5,142.7 323.0,142.7 322.5,142.7 322.0,142.7 321.5,142.7 321.0,142.7 320.5,142.7 320.0,142.8 319.5,142.8 319.0,142.8 318.5,142.8 318.0,142.8 317.5,142.8 317.0,143.3 316.5,143.3 316.0,142.9 315.5,142.9 315.0,142.9 314.5,142.9 314.0,142.9 313.5,142.9 313.0,142.9 312.5,143.0 312.0,143.0 311.5,143.0 311.0,143.0 310.5,143.0 310.0,143.0 309.5,143.0 309.0,143.0 308.5,143.1 308.0,143.1 307.5,143.1 307.0,143.1 306.5,143.1 306.0,143.1 305.5,143.1 305.0,143.5 304.5,143.5 304.0,143.6 303.5,143.6 303.0,143.9 302.5,143.9 302.0,143.2 301.5,143.3 301.0,143.3 300.5,144.3 300.0,144.3 299.5,144.4 299.0,144.4 298.5,143.3 298.0,143.4 297.5,143.4 297.0,143.4 296.5,144.0 296.0,143.4 295.5,143.4 295.0,144.2 294.5,144.2 294.0,143.5 293.5,143.5 293.0,143.5 292.5,143.5 292.0,143.6 291.5,144.1 291.0,144.1 290.5,144.1 290.0,143.6 289.5,143.6 289.0,143.7 288.5,143.7 288.0,143.7 287.5,143.7 287.0,144.0 286.5,143.7 286.0,143.8 285.5,143.8 285.0,143.8 284.5,143.8 284.0,143.8 283.5,143.8 283.0,144.6 282.5,143.9 282.0,143.9 281.5,144.3 281.0,144.3 280.5,144.3 280.0,144.4 279.5,144.0 279.0,144.0 278.5,144.0 278.0,144.0 277.5,144.0 277.0,144.1 276.5,144.1 276.0,144.1 275.5,144.1 275.0,144.1 274.5,144.1 274.0,144.7 273.5,144.7 273.0,144.8 272.5,144.2 272.0,144.2 271.5,144.2 271.0,144.2 270.5,144.3 270.0,144.3 269.5,144.3 269.0,144.3 268.5,144.3 268.0,144.3 267.5,145.6 267.0,145.6 266.5,145.6 266.0,144.4 265.5,144.4 265.0,145.1 264.5,145.1 264.0,144.4 263.5,144.4 263.0,144.4 262.5,144.5 262.0,144.5 261.5,144.5 261.0,144.5 260.5,144.5 260.0,144.5 259.5,144.5 259.0,144.5 258.5,144.5 258.0,144.5 257.5,144.5 257.0,145.8 256.5,145.8 256.0,145.8 255.5,145.9 255.0,144.6 254.5,145.2 254.0,145.2 253.5,145.2 253.0,145.2 252.5,145.2 252.0,146.5 251.5,146.5 251.0,146.5 250.5,145.9 250.0,145.9 249.5,145.3 249.0,145.3 248.5,145.3 248.0,145.3 247.5,146.3 247.0,145.3 246.5,145.3 246.0,145.3 245.5,145.3 245.0,145.3 244.5,145.3 244.0,145.3 243.5,145.3 243.0,145.2 242.5,145.2 242.0,145.1 241.5,145.1 241.0,145.0 240.5,144.9 240.0,144.9 239.5,144.8 239.0,144.7 238.5,144.6 238.0,144.5 237.5,144.5 237.0,144.4 236.5,144.3 236.0,144.2 235.5,144.2 235.0,144.7 234.5,144.0 234.0,144.0 233.5,143.9 233.0,143.8 232.5,143.8 232.0,143.7 231.5,144.7 231.0,144.7 230.5,144.6 230.0,144.5 229.5,144.3 229.0,144.3 228.5,144.2 228.0,143.1 227.5,143.1 227.0,143.0 226.5,142.9 226.0,142.8 225.5,142.8 225.0,144.1 224.5,143.9 224.0,143.8 223.5,143.7 223.0,142.4 222.5,142.4 222.0,142.3 221.5,142.3 221.0,142.2 220.5,142.2 220.0,142.1 219.5,142.0 219.0,142.0 218.5,142.0 218.0,141.9 217.5,141.9 217.0,142.7 216.5,141.8 216.0,141.7 215.5,141.7 215.0,141.6 214.5,141.6 214.0,141.5 213.5,141.5 213.0,141.5 212.5,141.4 212.0,141.4 211.5,142.0 211.0,141.9 210.5,141.3 210.0,142.5 209.5,142.4 209.0,142.4 208.5,142.4 208.0,141.1 207.5,141.0 207.0,141.0 206.5,141.0 206.0,140.9 205.5,140.9 205.0,140.8 204.5,140.8 204.0,140.8 203.5,140.7 203.0,140.7 202.5,141.9 202.0,141.9 201.5,141.8 201.0,141.8 200.5,141.2 200.0,141.1 199.5,140.4 199.0,142.3 198.5,142.2 198.0,140.7 197.5,140.7 197.0,140.3 196.5,140.2 196.0,140.2 195.5,140.1 195.0,140.1 194.5,140.6 194.0,140.0 193.5,140.0 193.0,139.9 192.5,139.9 192.0,141.0 191.5,141.0 191.0,140.9 190.5,139.8 190.0,139.7 189.5,139.7 189.0,140.0 188.5,140.5 188.0,140.5 187.5,139.6 187.0,139.5 186.5,139.5 186.0,139.5 185.5,139.5 185.0,139.4 184.5,139.4 184.0,139.4 183.5,139.3 183.0,139.3 182.5,139.3 182.0,139.2 181.5,140.3 181.0,140.2 180.5,140.2 180.0,140.2 179.5,140.4 179.0,140.4 178.5,140.4 178.0,138.9 177.5,138.9 177.0,138.8 176.5,138.8 176.0,138.8 175.5,138.7 175.0,138.7 174.5,138.6 174.0,138.6 173.5,139.4 173.0,138.5 172.5,138.4 172.0,138.9 171.5,138.8 171.0,138.7 170.5,138.2 170.0,138.1 169.5,138.0 169.0,139.0 168.5,138.9 168.0,138.5 167.5,138.4 167.0,138.6 166.5,138.5 166.0,138.4 165.5,138.2 165.0,137.1 164.5,136.9 164.0,136.8 163.5,136.6 163.0,136.5 162.5,136.3 162.0,136.2 161.5,136.0 161.0,135.9 160.5,135.7 160.0,135.6 159.5,135.4 159.0,135.3 158.5,135.6 158.0,135.5 157.5,135.3 157.0,135.2 156.5,134.6 156.0,134.4 155.5,134.3 155.0,134.1 154.5,134.0 154.0,133.8 153.5,134.1 153.0,133.9 152.5,133.8 152.0,133.6 151.5,133.1 151.0,132.9 150.5,132.8 150.0,132.6 149.5,132.1 149.0,131.9 148.5,131.7 148.0,131.6 147.5,131.4 147.0,131.3 146.5,131.1 146.0,131.0 145.5,130.8 145.0,130.7 144.5,130.5 144.0,130.4 143.5,130.2 143.0,130.1 142.5,130.0 142.0,129.8 141.5,129.7 141.0,129.6 140.5,129.4 140.0,129.3 139.5,129.2 139.0,129.0 138.5,128.9 138.0,128.8 137.5,128.7 137.0,128.6 136.5,128.4 136.0,128.3 135.5,129.0 135.0,128.9 134.5,128.8 134.0,128.7 133.5,128.1 133.0,128.0 132.5,128.5 132.0,128.4 131.5,127.3 131.0,127.2 130.5,127.1 130.0,127.0 129.5,126.9 129.0,127.2 128.5,127.1 128.0,126.8Z" fill="#000"/>
<path d="M136.0,126.5 136.4,126.7 136.7,126.6 137.1,126.9 137.5,127.1 137.8,127.2 138.2,127.2 138.6,127.4 139.0,127.4 139.3,127.4 139.7,127.6 140.1,127.5 140.4,127.8 140.8,127.7 141.2,127.7 141.5,127.9 141.9,128.1 142.3,128.1 142.7,128.2 143.0,128.5 143.4,128.5 143.8,128.4 144.2,128.5 144.5,128.3 144.9,128.6 145.3,128.6 145.7,128.7 146.0,128.8 146.4,128.6 146.8,128.9 147.2,128.9 147.5,128.8 147.9,129.1 148.3,129.1 148.7,128.9 149.0,129.1 149.4,129.2 149.8,129.4 150.2,129.1 150.6,129.3 150.9,129.4 151.3,129.4 151.7,129.6 152.1,129.5 152.4,129.4 152.8,129.7 153.2,129.6 153.6,129.8 153.9,130.2 154.3,129.7 154.7,129.7 155.1,130.1 155.5,130.1 155.8,130.0 156.2,130.1 156.6,130.3 157.0,130.3 157.3,130.5 157.7,130.4 158.1,130.4 158.5,130.3 158.8,130.7 159.2,130.8 159.6,130.6 160.0,130.7 160.3,130.8 160.7,130.9 161.1,131.0 161.5,131.3 161.8,131.0 162.2,131.1 162.6,131.2 163.0,131.2 163.3,131.1 163.7,131.4 164.1,131.5 164.5,131.4 164.9,131.4 165.2,131.5 165.6,131.8 166.0,131.8 166.4,131.8 166.7,132.0 167.1,131.8 167.5,131.8 167.9,131.8 168.2,131.9 168.6,131.7 169.0,131.9 169.4,132.0 169.8,131.9 170.1,132.3 170.5,132.2 170.9,132.4 171.3,132.1 171.6,132.0 172.0,132.1 172.4,132.0 172.8,132.1 173.2,131.9 173.5,132.2 173.9,132.2 174.3,132.1 174.7,132.2 175.1,132.1 175.4,132.1 175.8,132.1 176.2,132.1 176.6,132.3 177.0,132.0 177.3,132.1 177.7,132.1 178.1,132.3 178.5,132.1 178.9,132.3 179.2,132.2 179.6,132.3 180.0,132.1 180.4,132.3 180.8,132.1 181.1,132.2 181.5,132.3 181.9,132.4 182.3,132.3 182.7,132.3 183.0,132.5 183.4,132.4 183.8,132.2 184.2,132.2 184.6,132.2 184.9,132.3 185.3,132.4 185.7,132.3 186.1,132.3 186.5,132.2 186.8,132.4 187.2,132.2 187.6,132.5 188.0,132.4 188.4,132.4 188.7,132.3 189.1,132.3 189.5,132.6 189.9,132.2 190.3,132.2 190.7,132.4 191.0,132.4 191.4,132.4 191.8,132.3 192.2,132.4 192.6,132.3 192.9,132.5 193.3,132.5 193.7,132.5 194.1,132.6 194.5,132.6 194.8,132.6 195.2,132.4 195.6,132.6 196.0,132.7 196.4,132.6 196.7,132.5 197.1,132.4 197.5,132.4 197.9,132.7 198.3,132.6 198.6,132.7 199.0,132.8 199.4,132.5 199.8,132.7 200.2,132.8 200.5,132.7 200.9,132.6 201.3,133.0 201.7,132.8 202.0,132.9 202.4,133.1 202.8,132.8 203.2,132.7 203.6,132.9 203.9,132.8 204.3,132.9 204.7,132.9 205.1,132.9 205.5,132.9 205.8,133.1 206.2,133.0 206.6,133.4 207.0,133.2 207.4,133.2 207.7,133.2 208.1,133.3 208.5,133.4 208.9,133.4 209.3,133.4 209.6,133.7 210.0,133.4 210.4,133.5 210.8,133.4 211.2,133.7 211.5,133.5 211.9,133.7 212.3,133.8 212.7,133.8 213.1,133.9 213.4,134.0 213.8,134.1 214.2,134.3 214.6,134.1 214.9,134.3 215.3,134.6 215.7,134.5 216.1,134.2 216.4,134.4 216.8,134.7 217.2,134.6 217.5,134.8 217.9,134.7 218.3,134.9 218.6,134.8 219.0,134.9 219.3,135.2 219.7,135.0 220.1,135.4 220.4,135.6 220.8,135.8 221.1,135.8 221.5,136.1 221.8,136.4 222.2,136.3 222.5,136.5 222.9,136.6 223.2,136.7 223.6,136.9 223.9,137.2 224.3,137.3 224.6,137.3 225.0,137.5 225.3,137.8 225.7,137.8 226.0,137.7 226.4,138.1 226.8,138.1 227.1,138.3 227.5,138.6 227.9,138.4 228.2,138.8 228.6,138.6 228.9,138.8 229.3,138.7 229.7,139.1 230.0,139.1 230.4,139.1 230.7,139.3 231.1,139.6 231.5,139.7 231.8,139.7 232.2,140.0 232.5,140.1 232.9,140.2 233.3,140.2 233.6,140.4 234.0,140.7 234.3,140.7 234.7,140.9 235.0,141.0 235.4,141.2 235.7,141.4 236.1,141.3 236.4,141.7 236.8,141.7 237.1,141.8 237.5,142.1 237.8,142.1 238.2,142.4 238.5,142.5 238.9,142.7 239.2,142.7 239.6,143.0 240.0,142.8 240.3,142.9 240.7,143.2 241.0,143.3 241.4,143.4 241.8,143.4 242.2,143.6 242.5,143.6 242.9,144.1 243.3,143.9 243.7,144.0 244.0,144.1 244.4,144.0 244.8,144.3 245.2,144.3 245.5,144.1 245.9,144.3 246.3,144.4 246.6,144.8 247.0,144.6 247.4,144.8 247.7,144.8 248.1,145.0 248.5,145.1 248.8,145.3 249.1,145.4 249.5,145.6 249.8,145.7 250.2,145.8 250.5,145.9 250.8,146.2 251.2,146.4 251.5,146.4 251.8,146.7 252.1,146.8 252.5,147.3 252.8,147.0 253.1,147.6 253.4,147.8 253.7,147.9 254.1,148.4 254.4,148.6 254.7,148.6 255.0,148.9 255.3,149.1 255.6,149.3 255.9,149.5 256.2,149.9 256.5,149.9 256.8,150.2 257.1,150.4 257.4,150.6 257.7,151.0 258.0,151.1 258.3,151.3 258.6,151.7 258.9,152.0 259.2,152.1 259.5,152.3 259.8,152.6 260.1,152.7 260.4,153.0 260.7,153.2 261.0,153.9 261.3,154.0 261.6,154.0 261.9,154.3 262.1,154.6 262.4,154.8 262.7,155.2 263.0,155.5 263.3,155.8 263.6,155.9 263.9,156.0 264.2,156.3 264.5,156.8 264.7,157.1 265.0,157.1 265.3,157.3 265.6,157.7 265.9,157.5 266.2,158.2 266.4,158.4 266.7,158.7 267.0,158.8 267.3,159.0 267.6,159.4 267.9,159.5 268.1,159.9 268.4,160.1 268.7,160.4 269.0,160.7 269.3,161.0 269.5,161.2 269.8,161.3 270.1,161.6 270.4,162.0 270.7,162.2 270.9,162.4 271.2,162.5 271.5,163.1 271.8,163.4 272.1,163.2 272.3,163.7 272.6,163.9 272.9,164.3 273.2,164.5 273.5,164.8 273.8,165.1 274.0,165.0 274.3,165.5 274.6,166.0 274.9,166.1 275.1,166.2 275.4,166.5 275.7,166.8 276.0,167.2 276.3,167.4 276.5,167.7 276.8,167.9 277.1,168.2 277.3,168.3 277.6,168.4 277.9,169.0 278.1,169.0 278.4,169.6 278.6,169.7 278.9,169.9 279.2,170.4 279.4,170.7 279.7,170.9 279.9,171.0 280.2,171.5 280.4,171.7 280.7,171.9 280.9,172.4 281.2,172.7 281.4,172.8 281.7,173.0 281.9,173.4 282.2,174.0 282.4,174.1 282.7,174.2 282.9,174.8 283.2,175.0 283.4,175.0 283.6,175.4 283.9,175.8 284.1,176.0 284.3,176.3 284.6,176.8 284.8,177.1 285.0,177.3 285.3,177.6 285.5,177.8 285.7,178.0 286.0,178.7 286.2,178.8 286.4,179.1 286.7,179.6 286.9,179.7 287.1,180.1 287.3,180.2 287.6,180.6 287.8,181.0 288.0,181.3 288.2,181.4 288.5,182.1 288.7,182.1 288.9,182.5 289.1,182.8 289.4,183.1 289.6,183.4 289.8,183.7 290.0,183.9 290.2,184.5 290.4,185.4 290.7,185.8 290.9,185.8 291.1,185.6 291.3,186.2 291.5,185.3 291.7,186.7 291.9,187.4 292.1,187.4 292.3,186.9 292.5,186.9 292.7,188.0 292.9,189.2 293.1,188.5 293.3,189.9 293.5,189.7 293.7,190.2 293.9,189.8 294.1,192.1 294.2,191.2 294.4,190.9 294.6,191.8 294.8,192.0 295.0,191.4 295.1,192.5 295.3,193.1 295.5,192.6 295.7,193.6 295.8,193.3 296.0,194.0 296.2,193.9 296.3,195.9 296.5,195.7 296.7,195.5 296.8,195.2 297.0,195.1 297.2,196.4 297.3,196.7 297.5,196.7 297.6,197.7 297.8,197.6 297.9,198.1 298.1,198.6 298.2,198.8 298.4,198.9 298.5,199.7 298.7,200.3 298.8,199.6 299.0,200.7 299.1,201.3 299.2,201.5 299.4,202.3 299.5,201.8 299.6,201.7 299.8,202.8 299.9,203.0 300.0,203.4 300.2,203.3 300.3,204.7 300.4,204.1 300.5,204.4 300.7,204.6 300.8,205.7 300.9,206.1 301.0,206.8 301.2,207.0 301.3,207.4 301.4,207.1 301.6,208.1 301.7,207.7 301.8,209.0 301.9,209.1 302.1,209.0 302.2,209.2 302.3,209.8 302.4,210.1 302.6,210.3 302.7,211.0 302.8,211.5 303.0,212.0 303.1,212.0 303.2,212.9 303.3,212.7 303.5,213.1 303.6,213.5 303.7,213.3 303.9,214.7 304.0,214.9 304.1,215.3 304.2,215.3 304.4,216.1 304.5,216.5 304.6,217.0 304.8,216.9 304.9,218.3 305.0,217.3 305.2,218.8 305.3,217.6 305.4,218.5 305.6,218.8 305.7,219.2 305.9,218.9 306.0,220.0 306.1,220.8 306.3,220.7 306.4,221.2 306.6,219.6 306.7,221.4 306.9,223.1 307.0,222.2 307.1,222.1 307.3,223.2 307.4,223.7 307.6,224.5 307.7,224.9 307.9,225.3 308.0,225.3 308.2,224.7 308.3,224.6 308.5,226.1 308.6,226.7 308.8,226.7 308.9,226.5 309.1,227.5 309.2,230.4 309.4,227.4 309.5,229.1 309.7,228.8 309.8,229.8 310.0,229.6 310.1,230.1 310.3,229.5 310.4,230.6 310.6,230.9 310.7,230.9 310.9,231.7 311.0,231.0 311.2,231.9 311.3,232.7 311.5,232.9 311.6,232.5 311.8,233.1 311.9,234.4 312.1,234.4 312.2,235.2 312.4,234.2 312.5,235.3 312.6,235.8 312.8,236.3 312.9,236.9 313.1,237.6 313.2,237.6 313.4,237.9 313.5,237.2 313.6,238.4 313.8,238.4 313.9,239.2 314.1,239.1 314.2,239.2 314.3,240.0 314.5,240.5 314.6,240.3 314.8,241.5 314.9,241.5 315.0,242.3 315.2,242.2 315.3,242.2 315.5,243.7 315.6,243.0 315.7,243.2 315.9,244.0 316.0,243.8 316.2,245.5 316.3,245.6 316.4,245.0 316.6,245.6 316.7,246.0 316.8,246.8 317.0,246.8 317.1,246.5 317.3,246.7 317.4,247.9 317.5,248.0 317.7,248.0 317.8,249.2 317.9,248.4 318.1,249.4 318.2,250.3 318.3,250.7 318.5,250.6 318.6,250.6 318.7,251.5 318.9,250.8 319.0,251.9 319.1,252.6 319.3,252.4 319.4,252.2 319.5,250.7 319.7,252.0 319.8,254.2 319.9,255.3 320.1,254.3 320.2,254.6 320.3,255.4 320.5,256.2 320.6,256.4 320.7,259.1 320.9,257.0 321.0,258.6 321.1,257.2 321.2,258.8 321.4,259.0 321.5,260.3 321.6,259.4 321.8,260.6 321.9,260.9 322.0,259.1 322.1,261.8 322.3,261.9 322.4,260.8 322.5,261.6 322.7,262.3 322.8,262.9 322.9,263.0 323.0,262.8 323.2,263.5 323.3,264.7 323.4,263.5 323.5,263.9 323.7,268.2 323.8,264.0 323.9,264.1 324.0,265.0 324.2,265.5 324.3,265.2 324.4,269.3 324.5,271.4 324.7,266.3 324.8,268.4 324.9,268.5 325.0,268.5 325.1,269.6 325.3,268.8 325.4,268.7 325.5,269.7 325.6,271.0 325.8,271.0 325.9,272.5 326.0,271.6 326.1,272.6 326.2,271.2 326.4,272.6 326.5,275.5 326.6,274.3 326.7,276.4 326.8,274.5 326.9,275.2 327.1,276.9 327.2,275.9 327.3,275.6 327.4,276.7 327.5,276.5 327.6,277.2 327.8,277.4 327.9,278.1 328.0,277.3 328.1,277.9 328.2,279.3 328.3,278.7 328.5,279.8 328.6,279.2 328.7,279.8 328.8,279.0 328.9,278.7 329.0,283.0 329.2,281.9 329.3,281.0 329.4,282.6 329.5,284.2 329.6,282.5 329.7,281.4 329.9,283.5 330.0,283.3 330.1,284.9 330.2,284.6 330.3,286.0 330.5,284.0 330.6,286.2 330.7,286.0 330.8,287.6 331.0,287.8 331.1,285.4 331.2,288.1 331.3,288.1 331.5,284.3 331.6,288.8 331.7,286.9 331.8,290.9 332.0,289.7 332.1,291.3 332.2,289.5 332.4,292.4 332.5,289.7 332.6,291.2 332.7,292.5 332.9,292.8 333.0,293.2 333.1,293.6 333.3,292.7 333.4,295.8 333.5,293.7 333.7,294.7 333.8,293.7 333.9,293.9 334.1,296.1 334.2,293.5 334.4,296.5 334.5,295.8 334.6,296.2 334.8,299.6 334.9,295.0 335.0,296.7 335.2,297.5 335.3,307.4 335.5,299.6 335.6,299.6 335.7,298.2 335.9,298.6 336.0,300.7 336.1,301.6 336.3,301.4 336.4,301.3 336.6,299.4 336.7,299.5 336.8,302.8 337.0,301.4 337.1,303.2 337.3,302.9 337.4,302.3 337.5,305.5 337.7,303.0 337.8,307.0 338.0,307.6 338.1,308.5 338.3,308.9 338.4,302.8 338.5,306.8 338.7,308.2 338.8,308.0 339.0,304.6 339.1,311.2 339.2,311.1 339.4,307.7 339.5,310.1 339.7,309.9 339.8,310.2 339.9,308.5 340.1,311.6 340.2,312.5 340.4,313.7 340.5,312.0 340.6,309.3 340.8,311.1 340.9,315.2 341.1,313.1 341.2,316.2 341.4,315.4 341.5,315.2 341.6,311.6 341.8,316.7 341.9,316.9 342.1,315.9 342.2,315.3 342.4,317.4 342.5,315.3 342.6,315.5 342.8,314.6 342.9,319.0 343.1,320.3 343.2,317.3 343.4,321.0 343.5,321.7 343.7,320.1 343.8,319.9 344.0,320.3 344.1,321.1 344.3,320.1 344.4,319.6 344.6,322.1 344.7,324.9 344.9,329.0 345.1,322.7 345.2,323.6 345.4,321.1 345.5,325.0 345.7,321.4 345.9,326.5 346.0,324.2 346.2,323.9 346.4,324.3 346.5,331.6 346.7,328.2 346.9,326.9 347.1,326.5 347.2,327.9 347.4,325.7 347.6,329.9 347.7,327.9 347.9,328.5 348.1,328.3 348.3,322.3 348.4,332.7 348.6,331.6 348.8,332.8 349.0,332.9 349.1,333.8 349.3,331.6 349.5,331.0 349.7,329.2 349.8,330.9 350.0,329.6 350.2,335.5 350.4,331.3 350.5,340.6 350.7,330.6 350.9,332.8 351.0,337.4 351.2,327.7 351.4,338.0 351.5,333.2 351.7,335.7 351.8,335.1 352.0,337.9 352.2,335.0 352.3,338.9 352.5,340.3 352.6,337.7 352.8,339.8 352.9,337.4 353.1,338.0 353.2,339.4 353.4,343.7 353.5,339.8 353.7,339.9 353.8,340.4 354.0,337.4 354.2,342.5 354.3,339.5 354.5,342.1 354.6,344.6 354.8,344.8 354.9,340.6 355.1,344.0 355.2,344.0 355.4,344.9 355.5,346.6 355.7,336.8 355.8,345.5 356.0,343.3 356.2,347.0 356.3,345.4 356.5,350.7 356.6,348.6 356.8,356.7 357.0,349.5 357.1,347.4 357.3,344.6 357.5,353.1 357.6,347.6 357.8,349.0 358.0,349.2 358.2,349.2 358.3,350.8 358.5,352.8 358.7,351.6 358.9,349.8 359.1,351.7 359.2,347.8 359.4,351.0 359.6,352.6 359.8,352.5 360.0,353.1 360.1,349.5 360.3,350.0 360.5,352.9 360.7,356.2 360.9,358.3 361.1,355.7 361.3,353.6 361.5,357.5 361.6,357.4 361.8,358.8 362.0,355.2 362.2,355.9 362.4,354.9 362.6,355.3 362.8,359.1 363.0,356.1 363.2,355.5 363.4,361.8 363.6,359.9 363.8,361.9 363.9,362.7 364.1,360.7 364.3,361.5 364.5,360.7 364.7,359.1 364.9,358.1 365.1,362.7 365.3,363.8 365.5,364.4 365.7,360.0 365.9,364.2 366.1,365.3 366.3,360.9 366.5,363.4 366.7,361.7 366.9,363.2 367.1,364.2 367.3,367.2 367.5,367.6 367.7,367.1 367.9,364.0 368.1,367.7 368.3,369.1 368.5,366.9 368.7,369.2 369.0,366.2 369.2,367.0 369.4,367.3 369.6,367.9 369.8,367.0 370.0,372.5 370.2,370.5 370.4,371.2 370.6,370.5 370.8,376.1 371.1,374.1 371.3,369.8 371.5,377.0 371.7,372.6 371.9,374.6 372.1,371.2 372.4,374.4 372.6,373.6 372.8,373.9 373.0,372.6 373.2,375.2 373.5,374.3 373.7,375.0 373.9,376.9 374.1,372.3 374.4,373.5 374.6,379.3 374.8,379.4 375.0,376.9 375.3,373.6 375.5,377.0 375.7,383.4 375.9,376.7 376.2,381.2 376.4,381.5 376.6,375.5 376.9,379.2 377.1,377.4 377.4,379.3 377.6,381.6 377.8,375.8 378.1,380.2 378.3,382.5 378.6,381.4 378.8,381.9 379.1,379.9 379.3,382.4 379.5,381.4 379.8,380.0 380.0,386.8 380.3,386.1 380.5,384.8 380.8,384.7 381.0,388.7 381.3,386.2 381.5,386.9 381.8,383.7 382.0,382.6 382.3,387.2 382.5,384.5 382.7,386.3 383.0,385.3 383.2,387.7 383.5,383.5 383.7,386.5 383.9,386.5 384.2,388.5 384.4,388.0 384.7,390.8 384.9,386.8 385.1,388.5 385.4,392.3 385.6,387.5 385.9,391.0 386.1,391.0 386.3,387.9 386.6,393.8 386.8,392.2 387.1,395.8 387.3,391.6 387.6,392.4 387.8,396.2 388.1,398.7 388.3,392.3 388.6,389.7 388.8,391.0 389.1,393.4 389.3,397.1 389.6,396.6 389.9,397.9 390.1,395.6 390.4,394.1 390.6,391.1 390.9,386.2 391.2,397.0 391.4,397.0 391.7,399.5 392.0,398.0 392.3,397.4 392.5,399.1 392.8,388.7 393.1,400.5 393.3,392.3 393.6,400.7 393.9,394.3 394.2,397.8 394.5,398.4 394.7,395.0 395.0,397.6 395.3,402.1 395.6,401.0 395.9,400.5 396.2,399.9 396.5,402.4 396.8,400.8 397.0,398.9 397.3,402.6 397.6,405.9 397.9,402.2 398.2,403.2 398.5,400.9 398.8,403.9 399.1,405.2 399.4,402.8 399.7,398.6 400.0,402.7 400.3,405.4 400.6,402.3 400.9,405.6 401.2,405.1 401.5,405.6 401.8,401.8 402.1,405.6 402.4,402.9 402.7,408.7 403.0,408.2 403.3,403.3 403.6,405.4 403.9,401.6 404.2,412.5 404.5,405.5 404.8,406.4 405.1,407.1 405.4,406.3 405.7,409.0 406.0,404.7 406.3,412.3 406.6,404.8 406.9,409.0 407.2,410.3 407.5,410.0 407.8,414.1 408.1,409.5 408.4,409.8 408.7,408.9 409.0,411.1 409.3,413.9 409.6,414.1 409.9,407.1 410.2,411.2 410.5,411.8 410.8,415.5 411.1,411.1 411.4,415.9 411.7,412.8 412.0,416.2 412.3,413.3 412.6,413.3 412.9,410.1 413.2,416.2 413.5,414.7 413.8,415.1 414.1,411.6 414.4,410.9 414.7,415.0 415.0,417.0 415.2,418.4 415.5,416.6 415.8,415.3 416.1,415.2 416.4,415.6 416.7,416.6 417.0,415.4 417.3,416.4 417.6,418.3 417.9,416.0 418.2,425.2 418.4,405.1 418.7,423.5 419.0,421.6 419.3,420.4 419.6,418.1 419.9,417.3 420.2,428.0 420.5,420.4 420.8,421.5 421.1,422.3 421.4,419.0 421.7,417.3 422.0,426.3 422.3,423.0 422.6,421.0 423.0,423.5 423.3,424.6 423.6,421.5 423.9,419.4 424.2,420.6 424.5,428.3 424.8,419.1 425.2,419.9 425.5,421.2 425.8,425.5 426.1,422.8 426.5,419.2 426.8,423.8 427.1,430.2 427.4,420.3 427.8,429.5 428.1,422.7 428.4,432.6 428.8,426.8 429.1,422.9 429.4,426.0 429.8,425.0 430.1,428.7 430.4,426.0 430.8,428.7 431.1,427.4 431.4,424.8 431.7,429.7 432.1,422.9 432.4,425.7 432.7,431.4 433.1,429.0 433.4,427.4 433.7,428.1 434.1,428.1 434.4,427.3 434.7,428.5 435.0,430.0 435.4,429.8 435.7,431.2 436.0,428.7 436.3,430.9 436.7,432.0 437.0,430.1 437.3,431.0 437.6,434.0 438.0,432.5 438.3,433.1 438.6,429.4 438.9,428.0 439.2,430.2 439.6,427.3 439.9,433.4 440.2,435.9 440.5,432.8 440.9,434.6 441.2,434.1 441.5,435.4 441.8,436.7 442.2,438.9 442.5,430.5 442.8,433.4 443.1,436.5 443.5,436.8 443.8,436.8 444.1,437.5 444.5,432.9 444.8,434.5 445.1,437.6 445.5,435.2 445.8,435.1 446.1,436.0 446.5,437.4 446.8,434.3 447.2,441.1 447.5,430.5 447.9,439.1 448.2,437.1 448.5,438.7 448.9,432.3 449.2,429.4 449.6,438.1 449.9,440.4 450.3,433.7 450.6,438.0 451.0,439.8 451.3,438.5 451.7,436.6 452.0,438.0 452.4,439.7 452.8,439.7 453.1,439.5 453.5,439.8 453.8,437.7 454.2,442.7 454.5,434.8 454.9,437.2 455.2,442.6 455.6,437.7 456.0,445.6 456.3,438.6 456.7,442.0 457.0,442.0 457.4,431.9 457.8,440.2 458.1,442.9 458.5,439.4 458.8,439.4 459.2,440.1 459.6,441.8 459.9,440.7 460.3,439.9 460.6,443.3 461.0,439.5 461.4,440.2 461.7,436.3 462.1,438.3 462.5,441.3 462.8,443.4 463.2,439.4 463.6,440.8 463.9,446.5 464.3,438.9 464.7,439.2 465.0,445.0 465.4,443.5 465.8,443.2 466.1,445.9 466.5,442.2 466.9,440.8 467.3,445.3 467.6,444.2 468.0,442.0 468.4,447.5 468.7,447.7 469.1,443.9 469.5,453.4 469.8,440.0 470.2,448.1 470.6,443.5 470.9,443.9 471.3,441.1 471.7,444.2 472.0,445.6 472.4,445.0 472.8,447.7 473.1,447.7 473.5,440.8 473.9,444.2 474.2,444.9 474.6,449.2 475.0,440.8 475.3,442.5 475.7,446.4 476.1,449.6 476.4,444.9 476.8,444.0 477.2,447.3 477.6,450.7 477.9,445.9 478.3,450.0 478.7,447.5 479.0,445.1 479.4,446.9 479.8,449.3 480.1,444.8 480.5,446.9 480.9,449.7 481.2,447.0 481.6,447.8 482.0,448.0 482.4,443.5 482.7,450.8 483.1,443.5 483.5,444.4 483.8,450.1 484.2,448.6 484.6,445.5 484.9,443.9 485.3,454.3 485.7,445.8 486.1,449.3 486.4,451.7 486.8,444.3 487.2,448.0 487.5,451.0 487.9,449.4 488.3,453.4 488.7,445.6 489.0,446.5 489.4,451.4 489.8,450.1 490.1,449.2 490.5,451.5 490.9,448.0 491.3,448.8 491.6,447.2 492.0,448.8 492.4,452.4 492.7,449.9 493.1,444.6 493.5,448.6 493.9,446.8 494.2,449.9 494.6,450.1 495.0,452.9 495.4,449.5 495.7,451.5 496.1,448.2 496.5,448.0 496.9,451.5 497.2,449.7 497.6,451.9 498.0,454.1" fill="none" stroke="#000" stroke-width="1.3" stroke-linejoin="round"/>
<path d="M338.1,308.5 338.3,308.9 338.4,302.8 338.5,306.8 338.7,308.2 338.8,308.0 339.0,304.6 339.1,311.2 339.2,311.1 339.4,307.7 339.5,310.1 339.7,309.9 339.8,310.2 339.9,308.5 340.1,311.6 340.2,312.5 340.4,313.7 340.5,312.0 340.6,309.3 340.8,311.1 340.9,315.2 341.1,313.1 341.2,316.2 341.4,315.4 341.5,315.2 341.6,311.6 341.8,316.7 341.9,316.9 342.1,315.9 342.2,315.3 342.4,317.4 342.5,315.3 342.6,315.5 342.8,314.6 342.9,319.0 343.1,320.3 343.2,317.3 343.4,321.0 343.5,321.7 343.7,320.1 343.8,319.9 344.0,320.3 344.1,321.1 344.3,320.1 344.4,319.6 344.6,322.1 344.7,324.9 344.9,329.0 345.1,322.7 345.2,323.6 345.4,321.1 345.5,325.0 345.7,321.4 345.9,326.5 346.0,324.2 346.2,323.9 346.4,324.3 346.5,331.6 346.7,328.2 346.9,326.9 347.1,326.5 347.2,327.9 347.4,325.7 347.6,329.9 347.7,327.9 347.9,328.5 348.1,328.3 348.3,322.3 348.4,332.7 348.6,331.6 348.8,332.8 349.0,332.9 349.1,333.8 349.3,331.6 349.5,331.0 349.7,329.2 349.8,330.9 350.0,329.6 350.2,335.5 350.4,331.3 350.5,340.6 350.7,330.6 350.9,332.8 351.0,337.4 351.2,327.7 351.4,338.0 351.5,333.2 351.7,335.7 351.8,335.1 352.0,337.9 352.2,335.0 352.3,338.9 352.5,340.3 352.6,337.7 352.8,339.8 352.9,337.4 353.1,338.0 353.2,339.4 353.4,343.7 353.5,339.8 353.7,339.9 353.8,340.4 354.0,337.4 354.2,342.5 354.3,339.5 354.5,342.1 354.6,344.6 354.8,344.8 354.9,340.6 355.1,344.0 355.2,344.0 355.4,344.9 355.5,346.6 355.7,336.8 355.8,345.5 356.0,343.3 356.2,347.0 356.3,345.4 356.5,350.7 356.6,348.6 356.8,356.7 357.0,349.5 357.1,347.4 357.3,344.6 357.5,353.1 357.6,347.6 357.8,349.0 358.0,349.2 358.2,349.2 358.3,350.8 358.5,352.8 358.7,351.6 358.9,349.8 359.1,351.7 359.2,347.8 359.4,351.0 359.6,352.6 359.8,352.5 360.0,353.1 360.1,349.5 360.3,350.0 360.5,352.9 360.7,356.2 360.9,358.3 361.1,355.7 361.3,353.6 361.5,357.5 361.6,357.4 361.8,358.8 362.0,355.2 362.2,355.9 362.4,354.9 362.6,355.3 362.8,359.1 363.0,356.1 363.2,355.5 363.4,361.8 363.6,359.9 363.8,361.9 363.9,362.7 364.1,360.7 364.3,361.5 364.5,360.7 364.7,359.1 364.9,358.1 365.1,362.7 365.3,363.8 365.5,364.4 365.7,360.0 365.9,364.2 366.1,365.3 366.3,360.9 366.5,363.4 366.7,361.7 366.9,363.2 367.1,364.2 367.3,367.2 367.5,367.6 367.7,367.1 367.9,364.0 368.1,367.7 368.3,369.1 368.5,366.9 368.7,369.2 369.0,366.2 369.2,367.0 369.4,367.3 369.6,367.9 369.8,367.0 370.0,372.5 370.2,370.5 370.4,371.2 370.6,370.5 370.8,376.1 371.1,374.1 371.3,369.8 371.5,377.0 371.7,372.6 371.9,374.6 372.1,371.2 372.4,374.4 372.6,373.6 372.8,373.9 373.0,372.6 373.2,375.2 373.5,374.3 373.7,375.0 373.9,376.9 374.1,372.3 374.4,373.5 374.6,379.3 374.8,379.4 375.0,376.9 375.3,373.6 375.5,377.0 375.7,383.4 375.9,376.7 376.2,381.2 376.4,381.5 376.6,375.5 376.9,379.2 377.1,377.4 377.4,379.3 377.6,381.6 377.8,375.8 378.1,380.2 378.3,382.5 378.6,381.4 378.8,381.9 379.1,379.9 379.3,382.4 379.5,381.4 379.8,380.0 380.0,386.8 380.3,386.1 380.5,384.8 380.8,384.7 381.0,388.7 381.3,386.2 381.5,386.9 381.8,383.7 382.0,382.6 382.3,387.2 382.5,384.5 382.7,386.3 383.0,385.3 383.2,387.7 383.5,383.5 383.7,386.5 383.9,386.5 384.2,388.5 384.4,388.0 384.7,390.8 384.9,386.8 385.1,388.5 385.4,392.3 385.6,387.5 385.9,391.0 386.1,391.0 386.3,387.9 386.6,393.8 386.8,392.2 387.1,395.8 387.3,391.6 387.6,392.4 387.8,396.2 388.1,398.7 388.3,392.3 388.6,389.7 388.8,391.0 389.1,393.4 389.3,397.1 389.6,396.6 389.9,397.9 390.1,395.6 390.4,394.1 390.6,391.1 390.9,386.2 391.2,397.0 391.4,397.0 391.7,399.5 392.0,398.0 392.3,397.4 392.5,399.1 392.8,388.7 393.1,400.5 393.3,392.3 393.6,400.7 393.9,394.3 394.2,397.8 394.5,398.4 394.7,395.0 395.0,397.6 395.3,402.1 395.6,401.0 395.9,400.5 396.2,399.9 396.5,402.4 396.8,400.8 397.0,398.9 397.3,402.6 397.6,405.9 397.9,402.2 398.2,403.2 398.5,400.9 398.8,403.9 399.1,405.2 399.4,402.8 399.7,398.6 400.0,402.7 400.3,405.4 400.6,402.3 400.9,405.6 401.2,405.1 401.5,405.6 401.8,401.8 402.1,405.6 402.4,402.9 402.7,408.7 403.0,408.2 403.3,403.3 403.6,405.4 403.9,401.6 404.2,412.5 404.5,405.5 404.8,406.4 405.1,407.1 405.4,406.3 405.7,409.0 406.0,404.7 406.3,412.3 406.6,404.8 406.9,409.0 407.2,410.3 407.5,410.0 407.8,414.1 408.1,409.5 408.4,409.8 408.7,408.9 409.0,411.1 409.3,413.9 409.6,414.1 409.9,407.1 410.2,411.2 410.5,411.8 410.8,415.5 411.1,411.1 411.4,415.9 411.7,412.8 412.0,416.2 412.3,413.3 412.6,413.3 412.9,410.1 413.2,416.2 413.5,414.7 413.8,415.1 414.1,411.6 414.4,410.9 414.7,415.0 415.0,417.0 415.2,418.4 415.5,416.6 415.8,415.3 416.1,415.2 416.4,415.6 416.7,416.6 417.0,415.4 417.3,416.4 417.6,418.3 417.9,416.0 418.2,425.2 418.4,405.1 418.7,423.5 419.0,421.6 419.3,420.4 419.6,418.1 419.9,417.3 420.2,428.0 420.5,420.4 420.8,421.5 421.1,422.3 421.4,419.0 421.7,417.3 422.0,426.3 422.3,423.0 422.6,421.0 423.0,423.5 423.3,424.6 423.6,421.5 423.9,419.4 424.2,420.6 424.5,428.3 424.8,419.1 425.2,419.9 425.5,421.2 425.8,425.5 426.1,422.8 426.5,419.2 426.8,423.8 427.1,430.2 427.4,420.3 427.8,429.5 428.1,422.7 428.4,432.6 428.8,426.8 429.1,422.9 429.4,426.0 429.8,425.0 430.1,428.7 430.4,426.0 430.8,428.7 431.1,427.4 431.4,424.8 431.7,429.7 432.1,422.9 432.4,425.7 432.7,431.4 433.1,429.0 433.4,427.4 433.7,428.1 434.1,428.1 434.4,427.3 434.7,428.5 435.0,430.0 435.4,429.8 435.7,431.2 436.0,428.7 436.3,430.9 436.7,432.0 437.0,430.1 437.3,431.0 437.6,434.0 438.0,432.5 438.3,433.1 438.6,429.4 438.9,428.0 439.2,430.2 439.6,427.3 439.9,433.4 440.2,435.9 440.5,432.8 440.9,434.6 441.2,434.1 441.5,435.4 441.8,436.7 442.2,438.9 442.5,430.5 442.8,433.4 443.1,436.5 443.5,436.8 443.8,436.8 444.1,437.5 444.5,432.9 444.8,434.5 445.1,437.6 445.5,435.2 445.8,435.1 446.1,436.0 446.5,437.4 446.8,434.3 447.2,441.1 447.5,430.5 447.9,439.1 448.2,437.1 448.5,438.7 448.9,432.3 449.2,429.4 449.6,438.1 449.9,440.4 450.3,433.7 450.6,438.0 451.0,439.8 451.3,438.5 451.7,436.6 452.0,438.0 452.4,439.7 452.8,439.7 453.1,439.5 453.5,439.8 453.8,437.7 454.2,442.7 454.5,434.8 454.9,437.2 455.2,442.6 455.6,437.7 456.0,445.6 456.3,438.6 456.7,442.0 457.0,442.0 457.4,431.9 457.8,440.2 458.1,442.9 458.5,439.4 458.8,439.4 459.2,440.1 459.6,441.8 459.9,440.7 460.3,439.9 460.6,443.3 461.0,439.5 461.4,440.2 461.7,436.3 462.1,438.3 462.5,441.3 462.8,443.4 463.2,439.4 463.6,440.8 463.9,446.5 464.3,438.9 464.7,439.2 465.0,445.0 465.4,443.5 465.8,443.2 466.1,445.9 466.5,442.2 466.9,440.8 467.3,445.3 467.6,444.2 468.0,442.0 468.4,447.5 468.7,447.7 469.1,443.9 469.5,453.4 469.8,440.0 470.2,448.1 470.6,443.5 470.9,443.9 471.3,441.1 471.7,444.2 472.0,445.6 472.4,445.0 472.8,447.7 473.1,447.7 473.5,440.8 473.9,444.2 474.2,444.9 474.6,449.2 475.0,440.8 475.3,442.5 475.7,446.4 476.1,449.6 476.4,444.9 476.8,444.0 477.2,447.3 477.6,450.7 477.9,445.9 478.3,450.0 478.7,447.5 479.0,445.1 479.4,446.9 479.8,449.3 480.1,444.8 480.5,446.9 480.9,449.7 481.2,447.0 481.6,447.8 482.0,448.0 482.4,443.5 482.7,450.8 483.1,443.5 483.5,444.4 483.8,450.1 484.2,448.6 484.6,445.5 484.9,443.9 485.3,454.3 485.7,445.8 486.1,449.3 486.4,451.7 486.8,444.3 487.2,448.0 487.5,451.0 487.9,449.4 488.3,453.4 488.7,445.6 489.0,446.5 489.4,451.4 489.8,450.1 490.1,449.2 490.5,451.5 490.9,448.0 491.3,448.8 491.6,447.2 492.0,448.8 492.4,452.4 492.7,449.9 493.1,444.6 493.5,448.6 493.9,446.8 494.2,449.9 494.6,450.1 495.0,452.9 495.4,449.5 495.7,451.5 496.1,448.2 496.5,448.0 496.9,451.5 497.2,449.7 497.6,451.9 498.0,454.1" fill="none" stroke="#000" stroke-width="2.0" stroke-linejoin="round"/>
<path d="M138.2,126.9 138.5,127.0 138.8,127.4 139.0,127.7 139.2,127.9 139.3,128.6 139.4,128.6 139.5,129.0 139.5,129.4 139.6,130.0 139.6,130.1 139.7,130.6 139.7,131.0 139.8,130.8 139.8,131.5 139.9,132.3 139.9,132.5 140.0,132.6 140.1,133.2 140.2,133.7 140.3,133.8 140.4,134.5 140.5,134.7 140.6,135.0 140.7,135.4 140.8,135.7 141.0,136.4 141.1,136.6 141.2,136.8 141.3,137.4 141.4,137.4 141.6,138.1 141.7,138.4 141.8,138.6 141.9,138.9 142.0,139.4 142.1,139.8 142.2,140.1 142.3,140.5 142.4,141.0 142.5,141.2 142.6,141.5 142.7,141.9 142.8,142.2 142.9,142.6 143.0,143.3 143.1,143.3 143.1,143.6 143.2,144.0 143.3,144.4 143.4,145.0 143.5,145.5 143.6,145.6 143.7,145.9 143.7,146.5 143.8,146.6 143.9,147.0 144.0,147.5 144.1,147.9 144.2,148.2 144.3,148.4 144.4,148.9 144.4,149.3 144.5,149.8 144.6,150.1 144.7,150.4 144.8,151.1 144.9,151.2 145.0,151.8 145.1,151.9 145.2,152.2 145.2,152.6 145.3,153.1 145.4,153.3 145.5,153.7 145.6,154.0 145.7,154.5 145.8,155.0 145.9,155.1 146.0,155.7 146.0,155.9 146.1,156.2 146.2,156.7 146.3,157.3 146.4,157.4 146.5,158.0 146.6,158.2 146.6,158.5 146.7,159.2 146.8,159.2 146.9,159.3 147.0,160.5 147.0,160.5 147.1,160.9 147.2,161.4 147.3,161.7 147.4,162.1 147.4,162.3 147.5,162.7 147.6,163.1 147.6,163.2 147.7,163.7 147.8,164.1 147.8,164.5 147.9,164.8 148.0,165.2 148.0,165.5 148.1,166.2 148.2,166.4 148.2,166.5 148.3,167.1 148.4,167.7 148.4,168.1 148.5,168.1 148.6,169.0 148.6,168.8 148.7,169.3 148.7,169.7 148.8,170.0 148.9,170.4 148.9,170.7 149.0,171.3 149.0,171.7 149.1,171.3 149.2,172.4 149.2,172.8 149.3,173.4 149.3,173.6 149.4,173.9 149.4,174.2 149.5,174.6 149.6,174.8 149.6,175.4 149.7,175.8 149.7,176.1 149.8,176.7 149.8,176.9 149.9,177.3 149.9,177.7 150.0,178.1 150.1,178.5 150.1,178.9 150.2,179.2 150.2,179.8 150.3,179.9 150.3,180.3 150.4,180.7 150.5,181.3 150.5,181.2 150.6,181.9 150.6,182.2 150.7,182.5 150.7,183.0 150.8,183.0 150.9,183.8 150.9,184.3 151.0,184.5 151.0,184.7 151.1,185.1 151.1,185.5 151.2,185.7 151.2,186.3 151.3,186.6 151.3,187.0 151.4,187.6 151.4,187.9 151.5,188.2 151.6,188.6 151.6,189.0 151.6,189.3 151.7,189.9 151.7,190.0 151.8,190.5 151.8,190.7 151.9,191.2 151.9,191.8 152.0,192.1 152.0,192.4 152.1,192.8 152.1,193.0 152.1,193.7 152.2,193.7 152.2,194.3 152.2,194.7 152.3,195.0 152.3,195.4 152.3,195.9 152.4,196.3 152.4,196.7 152.4,197.0 152.5,197.3 152.5,197.8 152.5,197.9 152.6,198.6 152.6,198.8 152.6,199.3 152.6,199.6 152.7,200.0 152.7,200.4 152.7,200.7 152.8,200.9 152.8,201.4 152.8,202.0 152.8,202.3 152.9,202.6 152.9,202.8 152.9,203.3 152.9,203.8 153.0,204.1 153.0,204.6 153.0,204.7 153.0,205.2 153.1,205.6 153.1,205.9 153.1,206.3 153.2,206.8 153.2,207.1 153.2,207.7 153.2,207.9 153.3,208.6 153.3,208.7 153.3,209.1 153.4,209.3 153.4,209.9 153.4,209.9 153.4,210.6 153.5,211.1 153.5,211.5 153.5,211.5 153.6,212.1 153.6,212.3 153.6,212.9 153.7,212.9 153.7,213.6 153.7,214.1 153.8,214.4 153.8,214.6 153.9,214.9 153.9,215.3 153.9,215.8 154.0,216.2 154.0,216.6 154.0,217.0 154.1,217.3 154.1,218.0 154.1,218.1 154.2,218.4 154.2,219.0 154.2,219.4 154.3,219.9 154.3,220.3 154.3,220.4 154.4,220.9 154.4,221.4 154.5,221.8 154.5,222.1 154.5,222.3 154.6,222.7 154.6,223.1 154.6,223.4 154.7,223.8 154.7,224.1 154.7,224.5 154.8,225.0 154.8,225.4 154.8,225.8 154.9,226.0 154.9,226.5 155.0,226.7 155.0,227.2 155.0,227.4 155.1,228.0 155.1,228.5 155.1,228.7 155.2,229.0 155.2,229.5 155.2,229.9 155.3,230.1 155.3,230.5 155.4,231.2 155.4,231.2 155.4,231.8 155.5,232.3 155.5,232.5 155.5,232.9 155.6,233.2 155.6,233.7 155.6,233.9 155.7,234.4 155.7,234.9 155.8,235.3 155.8,235.6 155.8,235.8 155.9,236.3 155.9,236.6 155.9,237.0 156.0,237.4 156.0,237.7 156.1,238.3 156.1,238.6 156.1,238.7 156.2,239.3 156.2,239.8 156.3,241.0 156.3,239.8 156.3,241.0 156.4,241.1 156.4,241.5 156.5,241.5 156.5,242.6 156.5,242.7 156.6,243.1 156.6,242.9 156.7,244.0 156.7,244.0 156.7,244.6 156.8,244.7 156.8,245.1 156.9,245.4 156.9,246.2 157.0,246.0 157.0,246.1 157.0,247.3 157.1,247.7 157.1,247.0 157.2,249.3 157.2,249.2 157.3,249.0 157.3,249.6 157.3,249.5 157.4,250.0 157.4,250.4 157.5,251.2 157.5,251.0 157.6,251.8 157.6,251.8 157.6,252.5 157.7,251.9 157.7,253.0 157.8,253.9 157.8,253.3 157.9,254.3 157.9,254.3 157.9,254.7 158.0,256.7 158.0,254.6 158.1,257.1 158.1,256.7 158.2,257.9 158.2,258.2 158.2,258.3 158.3,257.6 158.3,258.9 158.4,259.5 158.4,259.5 158.5,258.9 158.5,261.4 158.5,260.8 158.6,262.1 158.6,260.8 158.7,262.1 158.7,261.5 158.7,263.0 158.8,263.6 158.8,263.1 158.9,264.1 158.9,264.0 158.9,265.0 159.0,264.3 159.0,265.9 159.0,265.6 159.1,267.0 159.1,266.5 159.1,266.0 159.2,267.7 159.2,266.0 159.2,268.7 159.3,267.9 159.3,267.9 159.4,269.0 159.4,269.2 159.4,270.0 159.5,270.1 159.5,270.8 159.5,272.1 159.6,271.8 159.6,270.9 159.6,272.2 159.7,272.3 159.7,272.2 159.7,272.5 159.8,271.8 159.8,273.4 159.8,274.4 159.9,274.6 159.9,274.7 159.9,274.1 160.0,275.4 160.0,273.2 160.0,277.0 160.1,276.7 160.1,277.9 160.2,277.8 160.2,278.0 160.2,278.5 160.3,279.5 160.3,278.3 160.3,279.5 160.4,278.6 160.4,280.8 160.5,280.2 160.5,280.5 160.5,281.5 160.6,281.1 160.6,282.2 160.7,281.9 160.7,283.0 160.8,283.5 160.8,283.9 160.9,282.7 160.9,283.6 161.0,285.6 161.0,285.4 161.1,285.4 161.1,286.4 161.2,286.6 161.2,286.7 161.3,286.2 161.3,286.6 161.4,288.1 161.4,288.0 161.5,289.7 161.6,288.9 161.6,289.4 161.7,290.1 161.7,289.8 161.8,288.7 161.9,291.9 161.9,292.4 162.0,289.8 162.0,291.7 162.1,292.2 162.2,291.3 162.2,293.0 162.3,293.7 162.4,292.8 162.4,293.6 162.5,294.7 162.5,294.8 162.6,298.3 162.7,296.1 162.7,297.5 162.8,296.3 162.9,296.0 162.9,298.0 163.0,299.8 163.1,300.3 163.1,297.4 163.2,299.2 163.2,298.3 163.3,299.6 163.4,298.8 163.4,300.8 163.5,300.3 163.6,301.0 163.6,302.2 163.7,302.9 163.7,300.8 163.8,301.0 163.9,303.3 163.9,305.5 164.0,301.7 164.0,305.3 164.1,303.8 164.2,303.6 164.2,306.5 164.3,307.1 164.3,306.8 164.4,305.4 164.5,307.6 164.5,306.5 164.6,307.3 164.6,304.8 164.7,307.0 164.8,311.5 164.8,308.8 164.9,309.3 165.0,307.4 165.0,314.4 165.1,309.3 165.1,310.0 165.2,311.2 165.3,313.9 165.3,312.4 165.4,312.0 165.4,311.4 165.5,312.8 165.6,312.3 165.6,310.6 165.7,311.5 165.7,315.9 165.8,315.9 165.9,316.7 165.9,315.3 166.0,317.4 166.1,317.8 166.1,315.1 166.2,316.2 166.2,319.8 166.3,318.2 166.4,315.9 166.4,321.3 166.5,317.1 166.5,318.7 166.6,318.6 166.7,320.6 166.7,319.1 166.8,319.9 166.9,320.6 166.9,321.7 167.0,322.5 167.0,323.6 167.1,323.5 167.2,321.3 167.2,323.6 167.3,324.7 167.3,325.7 167.4,321.2 167.5,326.5 167.5,326.5 167.6,324.5 167.7,326.0 167.7,327.0 167.8,327.9 167.8,324.2 167.9,327.9 168.0,326.5 168.0,329.9 168.1,328.7 168.1,328.7 168.2,329.9 168.3,332.1 168.3,330.6 168.4,330.5 168.5,330.9 168.5,330.0 168.6,331.2 168.6,332.2 168.7,333.1 168.8,334.0 168.8,332.3 168.9,331.9 168.9,332.9 169.0,334.8 169.1,335.4 169.1,335.5 169.2,333.2 169.3,335.7 169.3,335.1 169.4,335.3 169.4,336.4 169.5,339.8 169.6,338.0 169.6,340.9 169.7,337.4 169.7,338.6 169.8,336.8 169.9,337.6 169.9,338.0 170.0,337.6 170.1,340.6 170.1,342.9 170.2,336.5 170.2,344.3 170.3,346.0 170.4,341.8 170.4,340.1 170.5,334.0 170.6,343.1 170.6,341.3 170.7,346.3 170.8,346.3 170.8,344.8 170.9,342.8 171.0,344.6 171.0,345.9 171.1,345.8 171.2,347.2 171.2,346.6 171.3,345.5 171.3,343.8 171.4,350.2 171.5,348.7 171.5,351.7 171.6,350.7 171.7,347.7 171.7,348.6 171.8,353.8 171.9,351.0 171.9,348.2 172.0,353.1 172.1,353.1 172.1,351.6 172.2,347.4 172.3,355.0 172.3,350.7 172.4,353.2 172.5,352.6 172.5,355.6 172.6,355.8 172.7,352.7 172.7,355.9 172.8,356.4 172.9,360.7 172.9,356.1 173.0,354.7 173.1,360.8 173.2,359.1 173.2,358.4 173.3,366.6 173.4,360.5 173.4,363.0 173.5,357.3 173.6,358.8 173.6,360.7 173.7,360.6 173.8,362.3 173.9,360.3 173.9,367.5 174.0,363.2 174.1,361.9 174.2,364.3 174.2,364.4 174.3,361.5 174.4,366.5 174.5,362.2 174.5,364.6 174.6,370.8 174.7,366.3 174.8,364.7 174.8,362.6 174.9,369.8 175.0,367.6 175.1,366.6 175.2,364.9 175.2,369.4 175.3,367.6 175.4,370.3 175.5,369.3 175.6,373.6 175.7,367.0 175.7,369.6 175.8,366.9 175.9,371.9 176.0,371.3 176.1,375.2 176.2,369.5 176.3,372.2 176.3,373.3 176.4,375.6 176.5,374.5 176.6,372.6 176.7,373.5 176.8,373.9 176.9,375.9 177.0,374.2 177.1,377.0 177.2,379.1 177.2,375.8 177.3,374.1 177.4,374.7 177.5,377.8 177.6,378.8 177.7,379.0 177.8,378.9 177.9,379.4 178.0,371.6 178.1,377.6 178.2,367.8 178.3,379.3 178.4,380.3 178.5,382.5 178.6,382.9 178.7,379.8 178.8,384.4 178.9,387.4 179.0,385.4 179.1,387.8 179.2,385.0 179.3,385.9 179.4,381.5 179.5,386.8 179.6,384.8 179.7,385.7 179.8,386.7 179.9,385.3 180.0,390.0 180.1,388.9 180.2,389.0 180.3,388.7 180.4,385.1 180.5,391.8 180.6,387.2 180.7,394.0 180.8,396.2 180.9,392.0 181.0,391.3 181.1,389.2 181.2,395.9 181.3,393.7 181.4,392.9 181.5,388.4 181.6,395.1 181.7,393.5 181.8,398.4 181.9,395.1 182.0,393.9 182.1,398.0 182.3,393.4 182.4,396.7 182.5,401.9 182.6,395.4 182.7,393.0 182.8,398.8 182.9,393.7 183.1,398.2 183.2,402.6 183.3,396.9 183.4,399.7 183.5,396.6 183.7,402.0 183.8,399.7 183.9,403.6 184.1,401.0 184.2,405.9 184.3,401.2 184.5,406.5 184.6,408.2 184.8,400.2 184.9,405.3 185.1,403.5 185.2,405.7 185.4,408.9 185.5,402.3 185.7,406.8 185.8,407.3 186.0,406.0 186.2,404.7 186.3,406.7 186.5,404.6 186.7,408.0 186.8,401.4 187.0,408.4 187.1,413.4 187.3,411.8 187.5,408.2 187.6,411.5 187.8,409.0 188.0,407.6 188.1,413.9 188.3,413.5 188.5,410.4 188.6,414.9 188.8,413.8 188.9,413.1 189.1,413.2 189.3,412.6 189.4,414.1 189.6,413.3 189.7,414.4 189.9,413.7 190.0,411.7 190.2,412.2 190.3,418.0 190.4,412.9 190.6,420.3 190.7,418.3 190.9,418.3 191.0,419.0 191.1,414.5 191.3,416.8 191.4,418.5 191.5,416.7 191.7,420.4 191.8,416.9 191.9,420.9 192.1,419.7 192.2,420.2 192.3,423.9 192.5,414.3 192.6,422.7 192.7,422.4 192.9,425.5 193.0,421.8 193.1,423.0 193.2,428.1 193.4,423.6 193.5,429.6 193.6,424.7 193.8,422.4 193.9,422.4 194.0,423.1 194.2,428.2 194.3,424.8 194.5,423.6 194.6,423.9 194.7,428.3 194.9,431.7 195.0,422.3 195.2,423.9 195.3,432.5 195.5,429.9 195.6,430.6 195.8,430.6 195.9,426.4 196.1,430.0 196.2,431.2 196.4,433.7 196.5,432.1 196.7,431.1 196.9,430.0 197.0,432.3 197.2,435.8 197.4,431.1 197.5,434.3 197.7,435.4 197.9,430.6 198.0,440.6 198.2,435.0 198.4,428.8 198.5,433.2 198.7,433.2 198.9,435.0 199.1,432.3 199.3,435.4 199.4,433.8 199.6,439.4 199.8,437.1 200.0,433.8 200.2,432.0 200.4,438.8 200.6,439.2 200.8,439.7 201.0,438.0 201.2,435.2 201.4,440.7 201.6,430.4 201.8,437.8 202.1,444.9 202.3,441.6 202.5,441.5 202.7,441.6 203.0,438.4 203.2,447.1 203.5,445.9 203.7,445.3 204.0,447.0 204.3,442.9 204.6,443.5 204.9,444.5 205.2,443.7 205.4,445.4 205.7,441.5 206.1,443.4 206.4,454.5 206.7,447.5 207.0,444.2 207.3,447.8 207.6,442.3 207.9,445.9 208.2,444.4 208.5,448.8 208.9,449.5 209.2,450.6 209.5,447.0 209.8,447.7 210.1,451.7 210.4,456.3 210.7,448.3 211.0,444.7 211.3,446.6 211.7,444.8 212.0,456.1 212.3,448.2 212.6,449.8 212.9,452.6 213.3,447.9 213.6,454.2 213.9,448.1 214.2,453.6 214.5,455.1 214.9,450.9 215.2,451.4 215.5,449.1 215.9,447.3 216.2,450.4 216.5,452.0 216.8,451.5 217.2,451.9 217.5,455.8 217.8,452.0 218.1,451.3 218.5,450.1 218.8,459.2 219.1,453.0 219.4,449.4 219.8,455.3 220.1,454.3 220.4,451.5 220.7,457.1 221.1,451.7 221.4,453.4 221.7,455.7 222.0,455.9 222.3,457.6 222.6,456.7 223.0,458.4 223.3,458.2 223.6,457.9 223.9,454.0 224.2,457.4 224.6,447.3 224.9,454.4 225.2,456.1 225.5,458.4 225.8,455.5 226.1,454.6 226.5,458.8 226.8,454.8 227.1,455.7 227.4,458.0 227.8,463.8 228.1,460.3 228.4,456.9 228.8,457.1 229.1,462.4 229.4,456.1 229.8,461.1 230.1,457.3 230.4,456.9 230.8,461.1 231.1,459.4 231.5,457.9 231.8,460.4 232.2,459.9 232.5,462.1 232.9,463.1 233.2,457.8 233.6,464.2 233.9,461.2 234.3,458.5 234.6,462.0 235.0,460.1 235.3,460.7 235.7,460.8 236.1,464.2 236.4,461.9 236.8,466.6 237.1,463.4 237.5,463.2 237.9,460.4 238.2,464.3 238.6,463.3 238.9,461.2 239.3,464.6 239.7,465.5 240.0,465.2 240.4,468.9 240.7,463.5 241.1,464.5 241.5,463.4 241.8,467.3 242.2,469.0 242.5,463.4 242.9,466.1 243.2,461.3 243.6,467.3 243.9,463.5 244.3,462.5 244.6,463.0 245.0,466.4 245.3,464.4 245.7,465.4 246.0,468.6 246.4,468.3 246.7,466.9 247.1,465.5 247.4,465.5 247.8,468.7 248.1,462.5 248.5,468.2 248.8,463.5 249.2,467.4 249.5,470.7 249.9,465.1 250.2,466.3 250.6,473.0 250.9,468.5 251.3,468.9 251.6,469.7 252.0,474.2 252.3,465.3 252.7,470.8 253.0,472.4 253.4,470.9 253.7,463.9 254.1,466.2 254.4,469.7 254.8,467.4 255.1,472.4 255.5,470.3 255.9,471.7 256.2,470.3 256.6,475.7 256.9,468.4 257.3,469.9 257.6,479.2 258.0,473.1 258.4,471.4 258.7,470.4 259.1,459.5 259.4,472.5 259.8,475.7 260.1,469.8 260.5,474.2 260.9,472.0 261.2,473.8 261.6,471.2 261.9,470.8 262.3,471.1 262.6,471.5 263.0,472.5 263.4,473.6 263.7,473.1 264.1,469.9 264.4,473.0 264.8,473.8 265.2,474.3 265.5,476.4 265.9,472.8 266.2,470.6 266.6,475.2 267.0,475.3 267.3,474.5 267.7,474.1 268.0,478.1 268.4,473.3 268.7,475.9 269.1,471.5 269.5,475.5 269.8,476.5 270.2,475.7 270.5,474.3 270.9,474.8 271.2,472.8 271.6,477.3 272.0,478.0 272.3,473.6 272.7,478.5 273.0,476.8 273.4,477.4 273.8,479.7 274.1,480.0 274.5,479.4 274.8,476.7 275.2,476.9 275.6,477.8 275.9,476.0 276.3,477.4 276.6,479.0 277.0,476.2 277.4,480.2 277.7,475.9 278.1,479.8 278.4,481.5 278.8,479.9 279.2,479.5 279.5,479.5 279.9,480.3 280.3,478.5 280.6,475.6 281.0,478.0 281.4,479.3 281.7,480.9 282.1,479.2 282.5,482.9 282.9,480.7 283.2,480.5 283.6,484.1 284.0,480.5 284.3,479.9 284.7,477.5 285.1,482.0 285.5,477.0 285.8,481.1 286.2,478.8 286.6,480.7 287.0,480.3 287.3,478.4 287.7,480.9 288.1,482.5 288.4,478.0 288.8,483.5 289.2,480.4 289.6,478.8 289.9,479.9 290.3,480.7 290.7,481.8 291.1,480.9 291.4,482.8 291.8,481.9 292.2,481.4 292.6,482.1 292.9,482.5 293.3,482.7 293.7,482.0 294.1,486.7 294.4,485.9 294.8,483.9 295.2,480.5 295.6,481.9 296.0,483.6 296.3,484.4 296.7,481.1 297.1,485.1 297.5,484.2 297.8,486.5 298.2,479.9 298.6,484.4 299.0,482.9 299.3,479.1 299.7,481.7 300.1,481.4 300.5,481.9 300.8,481.7 301.2,482.7 301.6,480.4 302.0,482.9 302.4,484.7 302.7,484.7 303.1,482.3 303.5,483.5 303.9,481.3 304.2,483.4 304.6,485.5 305.0,483.5 305.4,482.7 305.8,481.0 306.1,486.8 306.5,483.7 306.9,482.6 307.3,485.5 307.6,482.7 308.0,483.1 308.4,482.3 308.8,484.9 309.2,481.6 309.5,483.4 309.9,482.8 310.3,487.6 310.7,482.6 311.1,481.0 311.4,481.9 311.8,484.6 312.2,483.5 312.6,484.2 313.0,484.1 313.3,482.6 313.7,482.2 314.1,484.2 314.5,484.9 314.9,483.0 315.2,481.4 315.6,484.5 316.0,484.0 316.4,484.1 316.7,486.3 317.1,484.9 317.5,483.0 317.9,479.1 318.2,482.4 318.6,483.2 319.0,483.8 319.4,482.4 319.8,483.3 320.1,482.5 320.5,486.9 320.9,484.1 321.3,484.9 321.6,485.5 322.0,486.5 322.4,485.0 322.8,485.0 323.1,485.1 323.5,481.4 323.9,485.2 324.3,480.7 324.6,485.1 325.0,485.3 325.4,485.8 325.8,483.5 326.1,485.4 326.5,483.1 326.9,484.9 327.3,482.5 327.6,484.8 328.0,486.4 328.4,488.1 328.8,486.8 329.1,483.5 329.5,485.6 329.9,478.9 330.3,484.4 330.6,485.4 331.0,487.6 331.4,486.5 331.8,486.4 332.1,484.4 332.5,487.2 332.9,484.5 333.3,485.7 333.6,487.2 334.0,486.3 334.4,487.7 334.8,487.4 335.1,486.8 335.5,488.2 335.9,486.7 336.3,485.9 336.6,485.4 337.0,488.1 337.4,486.5 337.8,486.9 338.2,488.6 338.5,488.4 338.9,491.6 339.3,488.7 339.7,485.2 340.0,485.9 340.4,487.0 340.8,486.6 341.2,486.6 341.5,488.7 341.9,487.8 342.3,483.5 342.7,489.9 343.1,488.0 343.4,488.2 343.8,488.5 344.2,487.1 344.6,487.2 344.9,485.6 345.3,487.6 345.7,488.2 346.1,488.5 346.5,490.6 346.8,489.9 347.2,488.2 347.6,487.5 348.0,488.2 348.4,489.8 348.7,487.4 349.1,488.5 349.5,488.2 349.9,488.1 350.2,489.1 350.6,488.6 351.0,489.3 351.4,488.9 351.8,488.1 352.1,489.4 352.5,486.8 352.9,487.9 353.3,490.4 353.7,490.9 354.0,490.7 354.4,490.6 354.8,489.7 355.2,489.1 355.6,489.7 355.9,488.1 356.3,490.5 356.7,489.2 357.1,488.9 357.5,487.9 357.8,489.2 358.2,488.2 358.6,489.7 359.0,488.1 359.4,488.8 359.7,492.0 360.1,490.0 360.5,489.9 360.9,488.2 361.2,488.5 361.6,488.1 362.0,488.9 362.4,489.0 362.8,488.9 363.1,490.2 363.5,489.5 363.9,489.8 364.3,488.6 364.7,490.0 365.0,489.0 365.4,490.6 365.8,490.3 366.2,490.7 366.6,488.8 366.9,489.1 367.3,489.6 367.7,487.2 368.1,489.3 368.5,489.8 368.8,488.8 369.2,489.9 369.6,488.5 370.0,490.2 370.4,490.2 370.7,489.4 371.1,491.1 371.5,489.0 371.9,490.1 372.3,488.1 372.6,489.2 373.0,490.9 373.4,490.0 373.8,491.1 374.2,490.1 374.5,489.5 374.9,489.6 375.3,489.8 375.7,490.5 376.1,491.4 376.4,490.6 376.8,490.7 377.2,490.4 377.6,488.3 378.0,488.4 378.3,490.1 378.7,493.0 379.1,490.5 379.5,489.5 379.9,490.8 380.2,489.4 380.6,491.1 381.0,489.4 381.4,490.6 381.8,492.8 382.1,489.4 382.5,489.7 382.9,489.0 383.3,489.4 383.7,489.9 384.0,489.3 384.4,489.0 384.8,492.1 385.2,492.2 385.6,489.7 385.9,489.7 386.3,488.4 386.7,489.6 387.1,490.7 387.5,489.1 387.8,492.2 388.2,489.9 388.6,490.4 389.0,489.4 389.4,489.9 389.7,489.7 390.1,487.5 390.5,490.6 390.9,490.7 391.3,489.4 391.6,489.8 392.0,490.4 392.4,490.1 392.8,490.1 393.2,493.4 393.5,489.5 393.9,489.8 394.3,490.4 394.7,489.8 395.1,488.7 395.4,490.5 395.8,490.2 396.2,490.8 396.6,489.5 397.0,490.9 397.3,483.8 397.7,490.1 398.1,485.9 398.5,488.0 398.9,491.6 399.2,489.5 399.6,489.8 400.0,490.2 400.4,489.9 400.8,489.4 401.1,490.0 401.5,490.6 401.9,490.0 402.3,491.3 402.7,491.5 403.0,491.0 403.4,492.6 403.8,490.7 404.2,491.4 404.6,497.1 404.9,489.6 405.3,489.3 405.7,488.5 406.1,490.4 406.5,491.1 406.8,490.2 407.2,491.2 407.6,491.3 408.0,490.9 408.4,489.3 408.7,491.9 409.1,489.8 409.5,489.8 409.9,490.5 410.3,492.1 410.6,489.4 411.0,489.0 411.4,491.0 411.8,491.5 412.2,491.0 412.5,491.1 412.9,490.9 413.3,491.9 413.7,490.6 414.1,491.1 414.4,489.1 414.8,490.7 415.2,489.9 415.6,492.1 416.0,491.4 416.3,489.8 416.7,490.6 417.1,489.0 417.5,489.9 417.9,490.7 418.2,490.8 418.6,491.4 419.0,490.4 419.4,490.3 419.8,493.1 420.1,490.1 420.5,491.2 420.9,490.5 421.3,490.0 421.7,491.2 422.0,490.9 422.4,492.0 422.8,490.1 423.2,490.5 423.6,492.3 423.9,490.0 424.3,492.1 424.7,490.9 425.1,490.4 425.5,489.1 425.8,489.8 426.2,491.0 426.6,492.8 427.0,492.6 427.4,494.3 427.7,490.8 428.1,489.5 428.5,491.0 428.9,488.2 429.3,492.9 429.6,492.3 430.0,492.1 430.4,491.1 430.8,490.0 431.2,493.6 431.5,491.7 431.9,496.1 432.3,490.9 432.7,492.0 433.1,491.1 433.4,492.0 433.8,490.6 434.2,490.9 434.6,491.2 435.0,490.5 435.3,492.3 435.7,492.5 436.1,491.2 436.5,490.6 436.9,492.3 437.2,493.8 437.6,492.0 438.0,492.5 438.4,491.3 438.8,490.8 439.1,491.3 439.5,493.4 439.9,491.6 440.3,491.1 440.7,493.2 441.0,491.4 441.4,494.0 441.8,491.3 442.2,489.8 442.6,493.0 442.9,492.5 443.3,492.3 443.7,490.1 444.1,490.4 444.5,491.9 444.8,490.3 445.2,492.0 445.6,491.9 446.0,491.4 446.4,492.8 446.7,491.6 447.1,491.7 447.5,490.8 447.9,491.4 448.3,497.7 448.6,490.4 449.0,490.6 449.4,492.1 449.8,491.6 450.2,490.9 450.5,489.4 450.9,491.4 451.3,490.4 451.7,494.2 452.1,490.8 452.4,492.3 452.8,491.4 453.2,492.4 453.6,492.5 454.0,492.5 454.3,489.0 454.7,491.4 455.1,491.7 455.5,492.1 455.9,491.3 456.2,490.4 456.6,491.7 457.0,491.6 457.4,483.2 457.8,492.8 458.1,490.9 458.5,491.8 458.9,489.5 459.3,491.3 459.7,492.1 460.0,491.2 460.4,490.9 460.8,492.5 461.2,487.8 461.6,493.7 461.9,493.1 462.3,492.2 462.7,490.6 463.1,491.1 463.5,492.5 463.8,490.8 464.2,491.5 464.6,492.3 465.0,490.9 465.4,491.4 465.7,491.2 466.1,492.2 466.5,490.6 466.9,492.4 467.3,490.8 467.6,490.4 468.0,490.9 468.4,489.6 468.8,491.6 469.2,491.7 469.5,497.6 469.9,490.2 470.3,487.5 470.7,490.7 471.1,489.7 471.4,492.3 471.8,492.9 472.2,491.5 472.6,491.2 473.0,491.4 473.3,490.6 473.7,492.1 474.1,491.1 474.5,492.5 474.9,492.1 475.2,490.1 475.6,492.2 476.0,491.4 476.4,491.9 476.8,489.5 477.1,490.2 477.5,491.4 477.9,491.7 478.3,489.6 478.7,491.6 479.0,491.0 479.4,491.3 479.8,489.8 480.2,491.3 480.6,491.5 480.9,490.4 481.3,490.8 481.7,491.2 482.1,489.5 482.5,490.6 482.8,489.7 483.2,486.3 483.6,489.9 484.0,489.0 484.4,489.9 484.8,489.5 485.1,491.4 485.5,490.4 485.9,490.0 486.3,491.1 486.7,489.5 487.0,490.7 487.4,490.6 487.8,491.1 488.2,490.3 488.5,491.8 488.9,491.7 489.3,490.0 489.7,492.1 490.1,491.4 490.4,490.9 490.8,492.3 491.2,492.3 491.6,489.8 492.0,489.2 492.3,491.6 492.7,491.9 493.1,486.8 493.5,481.9 493.9,481.9 494.2,491.5 494.6,489.8 495.0,490.4 495.4,487.9 495.7,492.4 496.1,490.4 496.5,490.8 496.9,493.6 497.2,492.7 497.6,490.4 498.0,492.7" fill="none" stroke="#000" stroke-width="1.3" stroke-linejoin="round"/>
<path d="M168.3,330.6 168.4,330.5 168.5,330.9 168.5,330.0 168.6,331.2 168.6,332.2 168.7,333.1 168.8,334.0 168.8,332.3 168.9,331.9 168.9,332.9 169.0,334.8 169.1,335.4 169.1,335.5 169.2,333.2 169.3,335.7 169.3,335.1 169.4,335.3 169.4,336.4 169.5,339.8 169.6,338.0 169.6,340.9 169.7,337.4 169.7,338.6 169.8,336.8 169.9,337.6 169.9,338.0 170.0,337.6 170.1,340.6 170.1,342.9 170.2,336.5 170.2,344.3 170.3,346.0 170.4,341.8 170.4,340.1 170.5,334.0 170.6,343.1 170.6,341.3 170.7,346.3 170.8,346.3 170.8,344.8 170.9,342.8 171.0,344.6 171.0,345.9 171.1,345.8 171.2,347.2 171.2,346.6 171.3,345.5 171.3,343.8 171.4,350.2 171.5,348.7 171.5,351.7 171.6,350.7 171.7,347.7 171.7,348.6 171.8,353.8 171.9,351.0 171.9,348.2 172.0,353.1 172.1,353.1 172.1,351.6 172.2,347.4 172.3,355.0 172.3,350.7 172.4,353.2 172.5,352.6 172.5,355.6 172.6,355.8 172.7,352.7 172.7,355.9 172.8,356.4 172.9,360.7 172.9,356.1 173.0,354.7 173.1,360.8 173.2,359.1 173.2,358.4 173.3,366.6 173.4,360.5 173.4,363.0 173.5,357.3 173.6,358.8 173.6,360.7 173.7,360.6 173.8,362.3 173.9,360.3 173.9,367.5 174.0,363.2 174.1,361.9 174.2,364.3 174.2,364.4 174.3,361.5 174.4,366.5 174.5,362.2 174.5,364.6 174.6,370.8 174.7,366.3 174.8,364.7 174.8,362.6 174.9,369.8 175.0,367.6 175.1,366.6 175.2,364.9 175.2,369.4 175.3,367.6 175.4,370.3 175.5,369.3 175.6,373.6 175.7,367.0 175.7,369.6 175.8,366.9 175.9,371.9 176.0,371.3 176.1,375.2 176.2,369.5 176.3,372.2 176.3,373.3 176.4,375.6 176.5,374.5 176.6,372.6 176.7,373.5 176.8,373.9 176.9,375.9 177.0,374.2 177.1,377.0 177.2,379.1 177.2,375.8 177.3,374.1 177.4,374.7 177.5,377.8 177.6,378.8 177.7,379.0 177.8,378.9 177.9,379.4 178.0,371.6 178.1,377.6 178.2,367.8 178.3,379.3 178.4,380.3 178.5,382.5 178.6,382.9 178.7,379.8 178.8,384.4 178.9,387.4 179.0,385.4 179.1,387.8 179.2,385.0 179.3,385.9 179.4,381.5 179.5,386.8 179.6,384.8 179.7,385.7 179.8,386.7 179.9,385.3 180.0,390.0 180.1,388.9 180.2,389.0 180.3,388.7 180.4,385.1 180.5,391.8 180.6,387.2 180.7,394.0 180.8,396.2 180.9,392.0 181.0,391.3 181.1,389.2 181.2,395.9 181.3,393.7 181.4,392.9 181.5,388.4 181.6,395.1 181.7,393.5 181.8,398.4 181.9,395.1 182.0,393.9 182.1,398.0 182.3,393.4 182.4,396.7 182.5,401.9 182.6,395.4 182.7,393.0 182.8,398.8 182.9,393.7 183.1,398.2 183.2,402.6 183.3,396.9 183.4,399.7 183.5,396.6 183.7,402.0 183.8,399.7 183.9,403.6 184.1,401.0 184.2,405.9 184.3,401.2 184.5,406.5 184.6,408.2 184.8,400.2 184.9,405.3 185.1,403.5 185.2,405.7 185.4,408.9 185.5,402.3 185.7,406.8 185.8,407.3 186.0,406.0 186.2,404.7 186.3,406.7 186.5,404.6 186.7,408.0 186.8,401.4 187.0,408.4 187.1,413.4 187.3,411.8 187.5,408.2 187.6,411.5 187.8,409.0 188.0,407.6 188.1,413.9 188.3,413.5 188.5,410.4 188.6,414.9 188.8,413.8 188.9,413.1 189.1,413.2 189.3,412.6 189.4,414.1 189.6,413.3 189.7,414.4 189.9,413.7 190.0,411.7 190.2,412.2 190.3,418.0 190.4,412.9 190.6,420.3 190.7,418.3 190.9,418.3 191.0,419.0 191.1,414.5 191.3,416.8 191.4,418.5 191.5,416.7 191.7,420.4 191.8,416.9 191.9,420.9 192.1,419.7 192.2,420.2 192.3,423.9 192.5,414.3 192.6,422.7 192.7,422.4 192.9,425.5 193.0,421.8 193.1,423.0 193.2,428.1 193.4,423.6 193.5,429.6 193.6,424.7 193.8,422.4 193.9,422.4 194.0,423.1 194.2,428.2 194.3,424.8 194.5,423.6 194.6,423.9 194.7,428.3 194.9,431.7 195.0,422.3 195.2,423.9 195.3,432.5 195.5,429.9 195.6,430.6 195.8,430.6 195.9,426.4 196.1,430.0 196.2,431.2 196.4,433.7 196.5,432.1 196.7,431.1 196.9,430.0 197.0,432.3 197.2,435.8 197.4,431.1 197.5,434.3 197.7,435.4 197.9,430.6 198.0,440.6 198.2,435.0 198.4,428.8 198.5,433.2 198.7,433.2 198.9,435.0 199.1,432.3 199.3,435.4 199.4,433.8 199.6,439.4 199.8,437.1 200.0,433.8 200.2,432.0 200.4,438.8 200.6,439.2 200.8,439.7 201.0,438.0 201.2,435.2 201.4,440.7 201.6,430.4 201.8,437.8 202.1,444.9 202.3,441.6 202.5,441.5 202.7,441.6 203.0,438.4 203.2,447.1 203.5,445.9 203.7,445.3 204.0,447.0 204.3,442.9 204.6,443.5 204.9,444.5 205.2,443.7 205.4,445.4 205.7,441.5 206.1,443.4 206.4,454.5 206.7,447.5 207.0,444.2 207.3,447.8 207.6,442.3 207.9,445.9 208.2,444.4 208.5,448.8 208.9,449.5 209.2,450.6 209.5,447.0 209.8,447.7 210.1,451.7 210.4,456.3 210.7,448.3 211.0,444.7 211.3,446.6 211.7,444.8 212.0,456.1 212.3,448.2 212.6,449.8 212.9,452.6 213.3,447.9 213.6,454.2 213.9,448.1 214.2,453.6 214.5,455.1 214.9,450.9 215.2,451.4 215.5,449.1 215.9,447.3 216.2,450.4 216.5,452.0 216.8,451.5 217.2,451.9 217.5,455.8 217.8,452.0 218.1,451.3 218.5,450.1 218.8,459.2 219.1,453.0 219.4,449.4 219.8,455.3 220.1,454.3 220.4,451.5 220.7,457.1 221.1,451.7 221.4,453.4 221.7,455.7 222.0,455.9 222.3,457.6 222.6,456.7 223.0,458.4 223.3,458.2 223.6,457.9 223.9,454.0 224.2,457.4 224.6,447.3 224.9,454.4 225.2,456.1 225.5,458.4 225.8,455.5 226.1,454.6 226.5,458.8 226.8,454.8 227.1,455.7 227.4,458.0 227.8,463.8 228.1,460.3 228.4,456.9 228.8,457.1 229.1,462.4 229.4,456.1 229.8,461.1 230.1,457.3 230.4,456.9 230.8,461.1 231.1,459.4 231.5,457.9 231.8,460.4 232.2,459.9 232.5,462.1 232.9,463.1 233.2,457.8 233.6,464.2 233.9,461.2 234.3,458.5 234.6,462.0 235.0,460.1 235.3,460.7 235.7,460.8 236.1,464.2 236.4,461.9 236.8,466.6 237.1,463.4 237.5,463.2 237.9,460.4 238.2,464.3 238.6,463.3 238.9,461.2 239.3,464.6 239.7,465.5 240.0,465.2 240.4,468.9 240.7,463.5 241.1,464.5 241.5,463.4 241.8,467.3 242.2,469.0 242.5,463.4 242.9,466.1 243.2,461.3 243.6,467.3 243.9,463.5 244.3,462.5 244.6,463.0 245.0,466.4 245.3,464.4 245.7,465.4 246.0,468.6 246.4,468.3 246.7,466.9 247.1,465.5 247.4,465.5 247.8,468.7 248.1,462.5 248.5,468.2 248.8,463.5 249.2,467.4 249.5,470.7 249.9,465.1 250.2,466.3 250.6,473.0 250.9,468.5 251.3,468.9 251.6,469.7 252.0,474.2 252.3,465.3 252.7,470.8 253.0,472.4 253.4,470.9 253.7,463.9 254.1,466.2 254.4,469.7 254.8,467.4 255.1,472.4 255.5,470.3 255.9,471.7 256.2,470.3 256.6,475.7 256.9,468.4 257.3,469.9 257.6,479.2 258.0,473.1 258.4,471.4 258.7,470.4 259.1,459.5 259.4,472.5 259.8,475.7 260.1,469.8 260.5,474.2 260.9,472.0 261.2,473.8 261.6,471.2 261.9,470.8 262.3,471.1 262.6,471.5 263.0,472.5 263.4,473.6 263.7,473.1 264.1,469.9 264.4,473.0 264.8,473.8 265.2,474.3 265.5,476.4 265.9,472.8 266.2,470.6 266.6,475.2 267.0,475.3 267.3,474.5 267.7,474.1 268.0,478.1 268.4,473.3 268.7,475.9 269.1,471.5 269.5,475.5 269.8,476.5 270.2,475.7 270.5,474.3 270.9,474.8 271.2,472.8 271.6,477.3 272.0,478.0 272.3,473.6 272.7,478.5 273.0,476.8 273.4,477.4 273.8,479.7 274.1,480.0 274.5,479.4 274.8,476.7 275.2,476.9 275.6,477.8 275.9,476.0 276.3,477.4 276.6,479.0 277.0,476.2 277.4,480.2 277.7,475.9 278.1,479.8 278.4,481.5 278.8,479.9 279.2,479.5 279.5,479.5 279.9,480.3 280.3,478.5 280.6,475.6 281.0,478.0 281.4,479.3 281.7,480.9 282.1,479.2 282.5,482.9 282.9,480.7 283.2,480.5 283.6,484.1 284.0,480.5 284.3,479.9 284.7,477.5 285.1,482.0 285.5,477.0 285.8,481.1 286.2,478.8 286.6,480.7 287.0,480.3 287.3,478.4 287.7,480.9 288.1,482.5 288.4,478.0 288.8,483.5 289.2,480.4 289.6,478.8 289.9,479.9 290.3,480.7 290.7,481.8 291.1,480.9 291.4,482.8 291.8,481.9 292.2,481.4 292.6,482.1 292.9,482.5 293.3,482.7 293.7,482.0 294.1,486.7 294.4,485.9 294.8,483.9 295.2,480.5 295.6,481.9 296.0,483.6 296.3,484.4 296.7,481.1 297.1,485.1 297.5,484.2 297.8,486.5 298.2,479.9 298.6,484.4 299.0,482.9 299.3,479.1 299.7,481.7 300.1,481.4 300.5,481.9 300.8,481.7 301.2,482.7 301.6,480.4 302.0,482.9 302.4,484.7 302.7,484.7 303.1,482.3 303.5,483.5 303.9,481.3 304.2,483.4 304.6,485.5 305.0,483.5 305.4,482.7 305.8,481.0 306.1,486.8 306.5,483.7 306.9,482.6 307.3,485.5 307.6,482.7 308.0,483.1 308.4,482.3 308.8,484.9 309.2,481.6 309.5,483.4 309.9,482.8 310.3,487.6 310.7,482.6 311.1,481.0 311.4,481.9 311.8,484.6 312.2,483.5 312.6,484.2 313.0,484.1 313.3,482.6 313.7,482.2 314.1,484.2 314.5,484.9 314.9,483.0 315.2,481.4 315.6,484.5 316.0,484.0 316.4,484.1 316.7,486.3 317.1,484.9 317.5,483.0 317.9,479.1 318.2,482.4 318.6,483.2 319.0,483.8 319.4,482.4 319.8,483.3 320.1,482.5 320.5,486.9 320.9,484.1 321.3,484.9 321.6,485.5 322.0,486.5 322.4,485.0 322.8,485.0 323.1,485.1 323.5,481.4 323.9,485.2 324.3,480.7 324.6,485.1 325.0,485.3 325.4,485.8 325.8,483.5 326.1,485.4 326.5,483.1 326.9,484.9 327.3,482.5 327.6,484.8 328.0,486.4 328.4,488.1 328.8,486.8 329.1,483.5 329.5,485.6 329.9,478.9 330.3,484.4 330.6,485.4 331.0,487.6 331.4,486.5 331.8,486.4 332.1,484.4 332.5,487.2 332.9,484.5 333.3,485.7 333.6,487.2 334.0,486.3 334.4,487.7 334.8,487.4 335.1,486.8 335.5,488.2 335.9,486.7 336.3,485.9 336.6,485.4 337.0,488.1 337.4,486.5 337.8,486.9 338.2,488.6 338.5,488.4 338.9,491.6 339.3,488.7 339.7,485.2 340.0,485.9 340.4,487.0 340.8,486.6 341.2,486.6 341.5,488.7 341.9,487.8 342.3,483.5 342.7,489.9 343.1,488.0 343.4,488.2 343.8,488.5 344.2,487.1 344.6,487.2 344.9,485.6 345.3,487.6 345.7,488.2 346.1,488.5 346.5,490.6 346.8,489.9 347.2,488.2 347.6,487.5 348.0,488.2 348.4,489.8 348.7,487.4 349.1,488.5 349.5,488.2 349.9,488.1 350.2,489.1 350.6,488.6 351.0,489.3 351.4,488.9 351.8,488.1 352.1,489.4 352.5,486.8 352.9,487.9 353.3,490.4 353.7,490.9 354.0,490.7 354.4,490.6 354.8,489.7 355.2,489.1 355.6,489.7 355.9,488.1 356.3,490.5 356.7,489.2 357.1,488.9 357.5,487.9 357.8,489.2 358.2,488.2 358.6,489.7 359.0,488.1 359.4,488.8 359.7,492.0 360.1,490.0 360.5,489.9 360.9,488.2 361.2,488.5 361.6,488.1 362.0,488.9 362.4,489.0 362.8,488.9 363.1,490.2 363.5,489.5 363.9,489.8 364.3,488.6 364.7,490.0 365.0,489.0 365.4,490.6 365.8,490.3 366.2,490.7 366.6,488.8 366.9,489.1 367.3,489.6 367.7,487.2 368.1,489.3 368.5,489.8 368.8,488.8 369.2,489.9 369.6,488.5 370.0,490.2 370.4,490.2 370.7,489.4 371.1,491.1 371.5,489.0 371.9,490.1 372.3,488.1 372.6,489.2 373.0,490.9 373.4,490.0 373.8,491.1 374.2,490.1 374.5,489.5 374.9,489.6 375.3,489.8 375.7,490.5 376.1,491.4 376.4,490.6 376.8,490.7 377.2,490.4 377.6,488.3 378.0,488.4 378.3,490.1 378.7,493.0 379.1,490.5 379.5,489.5 379.9,490.8 380.2,489.4 380.6,491.1 381.0,489.4 381.4,490.6 381.8,492.8 382.1,489.4 382.5,489.7 382.9,489.0 383.3,489.4 383.7,489.9 384.0,489.3 384.4,489.0 384.8,492.1 385.2,492.2 385.6,489.7 385.9,489.7 386.3,488.4 386.7,489.6 387.1,490.7 387.5,489.1 387.8,492.2 388.2,489.9 388.6,490.4 389.0,489.4 389.4,489.9 389.7,489.7 390.1,487.5 390.5,490.6 390.9,490.7 391.3,489.4 391.6,489.8 392.0,490.4 392.4,490.1 392.8,490.1 393.2,493.4 393.5,489.5 393.9,489.8 394.3,490.4 394.7,489.8 395.1,488.7 395.4,490.5 395.8,490.2 396.2,490.8 396.6,489.5 397.0,490.9 397.3,483.8 397.7,490.1 398.1,485.9 398.5,488.0 398.9,491.6 399.2,489.5 399.6,489.8 400.0,490.2 400.4,489.9 400.8,489.4 401.1,490.0 401.5,490.6 401.9,490.0 402.3,491.3 402.7,491.5 403.0,491.0 403.4,492.6 403.8,490.7 404.2,491.4 404.6,497.1 404.9,489.6 405.3,489.3 405.7,488.5 406.1,490.4 406.5,491.1 406.8,490.2 407.2,491.2 407.6,491.3 408.0,490.9 408.4,489.3 408.7,491.9 409.1,489.8 409.5,489.8 409.9,490.5 410.3,492.1 410.6,489.4 411.0,489.0 411.4,491.0 411.8,491.5 412.2,491.0 412.5,491.1 412.9,490.9 413.3,491.9 413.7,490.6 414.1,491.1 414.4,489.1 414.8,490.7 415.2,489.9 415.6,492.1 416.0,491.4 416.3,489.8 416.7,490.6 417.1,489.0 417.5,489.9 417.9,490.7 418.2,490.8 418.6,491.4 419.0,490.4 419.4,490.3 419.8,493.1 420.1,490.1 420.5,491.2 420.9,490.5 421.3,490.0 421.7,491.2 422.0,490.9 422.4,492.0 422.8,490.1 423.2,490.5 423.6,492.3 423.9,490.0 424.3,492.1 424.7,490.9 425.1,490.4 425.5,489.1 425.8,489.8 426.2,491.0 426.6,492.8 427.0,492.6 427.4,494.3 427.7,490.8 428.1,489.5 428.5,491.0 428.9,488.2 429.3,492.9 429.6,492.3 430.0,492.1 430.4,491.1 430.8,490.0 431.2,493.6 431.5,491.7 431.9,496.1 432.3,490.9 432.7,492.0 433.1,491.1 433.4,492.0 433.8,490.6 434.2,490.9 434.6,491.2 435.0,490.5 435.3,492.3 435.7,492.5 436.1,491.2 436.5,490.6 436.9,492.3 437.2,493.8 437.6,492.0 438.0,492.5 438.4,491.3 438.8,490.8 439.1,491.3 439.5,493.4 439.9,491.6 440.3,491.1 440.7,493.2 441.0,491.4 441.4,494.0 441.8,491.3 442.2,489.8 442.6,493.0 442.9,492.5 443.3,492.3 443.7,490.1 444.1,490.4 444.5,491.9 444.8,490.3 445.2,492.0 445.6,491.9 446.0,491.4 446.4,492.8 446.7,491.6 447.1,491.7 447.5,490.8 447.9,491.4 448.3,497.7 448.6,490.4 449.0,490.6 449.4,492.1 449.8,491.6 450.2,490.9 450.5,489.4 450.9,491.4 451.3,490.4 451.7,494.2 452.1,490.8 452.4,492.3 452.8,491.4 453.2,492.4 453.6,492.5 454.0,492.5 454.3,489.0 454.7,491.4 455.1,491.7 455.5,492.1 455.9,491.3 456.2,490.4 456.6,491.7 457.0,491.6 457.4,483.2 457.8,492.8 458.1,490.9 458.5,491.8 458.9,489.5 459.3,491.3 459.7,492.1 460.0,491.2 460.4,490.9 460.8,492.5 461.2,487.8 461.6,493.7 461.9,493.1 462.3,492.2 462.7,490.6 463.1,491.1 463.5,492.5 463.8,490.8 464.2,491.5 464.6,492.3 465.0,490.9 465.4,491.4 465.7,491.2 466.1,492.2 466.5,490.6 466.9,492.4 467.3,490.8 467.6,490.4 468.0,490.9 468.4,489.6 468.8,491.6 469.2,491.7 469.5,497.6 469.9,490.2 470.3,487.5 470.7,490.7 471.1,489.7 471.4,492.3 471.8,492.9 472.2,491.5 472.6,491.2 473.0,491.4 473.3,490.6 473.7,492.1 474.1,491.1 474.5,492.5 474.9,492.1 475.2,490.1 475.6,492.2 476.0,491.4 476.4,491.9 476.8,489.5 477.1,490.2 477.5,491.4 477.9,491.7 478.3,489.6 478.7,491.6 479.0,491.0 479.4,491.3 479.8,489.8 480.2,491.3 480.6,491.5 480.9,490.4 481.3,490.8 481.7,491.2 482.1,489.5 482.5,490.6 482.8,489.7 483.2,486.3 483.6,489.9 484.0,489.0 484.4,489.9 484.8,489.5 485.1,491.4 485.5,490.4 485.9,490.0 486.3,491.1 486.7,489.5 487.0,490.7 487.4,490.6 487.8,491.1 488.2,490.3 488.5,491.8 488.9,491.7 489.3,490.0 489.7,492.1 490.1,491.4 490.4,490.9 490.8,492.3 491.2,492.3 491.6,489.8 492.0,489.2 492.3,491.6 492.7,491.9 493.1,486.8 493.5,481.9 493.9,481.9 494.2,491.5 494.6,489.8 495.0,490.4 495.4,487.9 495.7,492.4 496.1,490.4 496.5,490.8 496.9,493.6 497.2,492.7 497.6,490.4 498.0,492.7" fill="none" stroke="#000" stroke-width="2.0" stroke-linejoin="round"/>

<text transform="translate(327.87,72.7) scale(1.2334,1)" font-size="19.8" stroke-width="1.15">control</text>
<text transform="translate(327.67,98.0) scale(1.2403,1)" font-size="19.8" stroke-width="1.15"><tspan word-spacing="1.6">empty vector</tspan></text>
<text transform="translate(329.04,169.1) scale(1.2633,1)" font-size="19.8" stroke-width="1.15">untreated</text>
<text transform="translate(329.94,194.9) scale(1.1444,1)" font-size="20.7" stroke-width="1.1">COS-7-cells</text>
<text transform="translate(386.13,333.4) scale(1.2042,1)" font-size="19.8" stroke-width="1.15">human</text>
<text transform="translate(385.93,359.3) scale(1.1994,1)" font-size="20.2" stroke-width="1.12">A<tspan font-size="12.5" stroke-width="0.8">1</tspan>-domain</text>
<text transform="translate(388.51,533.0) scale(1.2230,1)" font-size="19.8" stroke-width="1.15">porcine</text>
<text transform="translate(387.95,558.6) scale(1.1929,1)" font-size="20.2" stroke-width="1.12">A<tspan font-size="12.5" stroke-width="0.8">1</tspan>-domain</text>
<text transform="translate(69.20,129.0) scale(1.1588,1)" font-size="22.0" stroke-width="0.85">0</text>
<text transform="translate(39.84,532.9) scale(1.1938,1)" font-size="21.1" stroke-width="0.85">100</text>
<text transform="translate(107.64,641.4) scale(1.1805,1)" font-size="21.1" stroke-width="0.85">0</text>
<text transform="translate(487.66,640.3) scale(1.2108,1)" font-size="21.1" stroke-width="0.85">10</text>
<text transform="translate(231.55,675.35) scale(1.2020,1)" font-size="23.3" stroke-width="1.0">Time <tspan font-size="24.2">(</tspan>min.<tspan font-size="24.2">)</tspan></text>
<text transform="translate(23.8,456.05) rotate(-90) scale(1.1687,1)" font-size="23.5" stroke-width="1.0">Light</text>
<text transform="translate(23.8,378.36) rotate(-90) scale(1.2100,1)" font-size="22.8" stroke-width="1.0">transmission</text>
<text transform="translate(23.8,197.39) rotate(-90) scale(1.1649,1)" font-size="22.8" stroke-width="1.0"><tspan font-size="24.2">(</tspan><tspan stroke-width="0.25" font-size="23.5">%</tspan><tspan font-size="24.2">)</tspan></text>
<text transform="translate(4.75,32.45) scale(1.063,1)" font-size="37.9" style="font-family:'DejaVu Sans Light','DejaVu Sans',sans-serif;font-weight:200" stroke-width="3.7" stroke-linejoin="round" stroke-linecap="round">A</text>
</svg>
</body></html>
